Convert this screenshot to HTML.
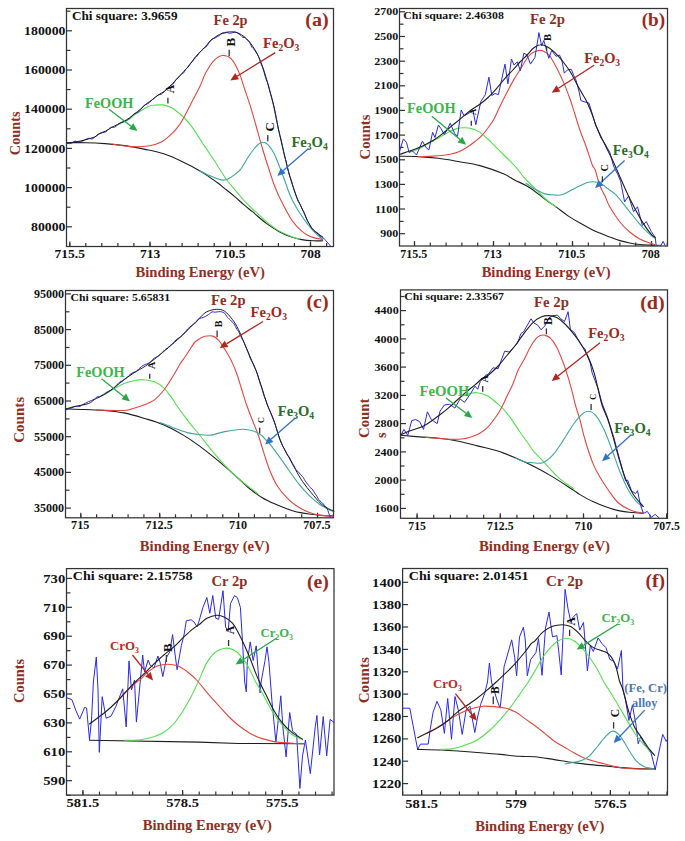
<!DOCTYPE html>
<html><head><meta charset="utf-8"><style>
html,body{margin:0;padding:0;background:#fff;}
svg{display:block;font-family:"Liberation Serif", serif;}
</style></head><body>
<svg width="685" height="841" viewBox="0 0 685 841">
<rect width="685" height="841" fill="#fff"/>
<rect x="66.5" y="8.5" width="267.0" height="238.0" fill="none" stroke="#333" stroke-width="1.25"/>
<line x1="66.5" y1="226.8" x2="72.0" y2="226.8" stroke="#333" stroke-width="1.2"/>
<text transform="translate(65.4,230.9) scale(1.020,1.000)" font-size="13.5" fill="#111" text-anchor="end" font-weight="bold">80000</text>
<line x1="66.5" y1="187.6" x2="72.0" y2="187.6" stroke="#333" stroke-width="1.2"/>
<text transform="translate(65.4,191.7) scale(1.020,1.000)" font-size="13.5" fill="#111" text-anchor="end" font-weight="bold">100000</text>
<line x1="66.5" y1="148.4" x2="72.0" y2="148.4" stroke="#333" stroke-width="1.2"/>
<text transform="translate(65.4,152.5) scale(1.020,1.000)" font-size="13.5" fill="#111" text-anchor="end" font-weight="bold">120000</text>
<line x1="66.5" y1="109.2" x2="72.0" y2="109.2" stroke="#333" stroke-width="1.2"/>
<text transform="translate(65.4,113.3) scale(1.020,1.000)" font-size="13.5" fill="#111" text-anchor="end" font-weight="bold">140000</text>
<line x1="66.5" y1="70.0" x2="72.0" y2="70.0" stroke="#333" stroke-width="1.2"/>
<text transform="translate(65.4,74.1) scale(1.020,1.000)" font-size="13.5" fill="#111" text-anchor="end" font-weight="bold">160000</text>
<line x1="66.5" y1="30.8" x2="72.0" y2="30.8" stroke="#333" stroke-width="1.2"/>
<text transform="translate(65.4,34.9) scale(1.020,1.000)" font-size="13.5" fill="#111" text-anchor="end" font-weight="bold">180000</text>
<line x1="66.5" y1="207.2" x2="70.5" y2="207.2" stroke="#333" stroke-width="1.2"/>
<line x1="66.5" y1="168.0" x2="70.5" y2="168.0" stroke="#333" stroke-width="1.2"/>
<line x1="66.5" y1="128.8" x2="70.5" y2="128.8" stroke="#333" stroke-width="1.2"/>
<line x1="66.5" y1="89.6" x2="70.5" y2="89.6" stroke="#333" stroke-width="1.2"/>
<line x1="66.5" y1="50.4" x2="70.5" y2="50.4" stroke="#333" stroke-width="1.2"/>
<line x1="66.5" y1="11.2" x2="70.5" y2="11.2" stroke="#333" stroke-width="1.2"/>
<line x1="69.8" y1="246.5" x2="69.8" y2="241.5" stroke="#333" stroke-width="1.2"/>
<text x="69.8" y="258.4" font-size="13.5" fill="#111" text-anchor="middle" font-weight="bold">715.5</text>
<line x1="150.0" y1="246.5" x2="150.0" y2="241.5" stroke="#333" stroke-width="1.2"/>
<text x="150.0" y="258.4" font-size="13.5" fill="#111" text-anchor="middle" font-weight="bold">713</text>
<line x1="230.2" y1="246.5" x2="230.2" y2="241.5" stroke="#333" stroke-width="1.2"/>
<text x="230.2" y="258.4" font-size="13.5" fill="#111" text-anchor="middle" font-weight="bold">710.5</text>
<line x1="310.5" y1="246.5" x2="310.5" y2="241.5" stroke="#333" stroke-width="1.2"/>
<text x="310.5" y="258.4" font-size="13.5" fill="#111" text-anchor="middle" font-weight="bold">708</text>
<line x1="69.8" y1="246.5" x2="69.8" y2="243.0" stroke="#333" stroke-width="1.2"/>
<line x1="85.8" y1="246.5" x2="85.8" y2="243.0" stroke="#333" stroke-width="1.2"/>
<line x1="101.8" y1="246.5" x2="101.8" y2="243.0" stroke="#333" stroke-width="1.2"/>
<line x1="117.9" y1="246.5" x2="117.9" y2="243.0" stroke="#333" stroke-width="1.2"/>
<line x1="133.9" y1="246.5" x2="133.9" y2="243.0" stroke="#333" stroke-width="1.2"/>
<line x1="150.0" y1="246.5" x2="150.0" y2="243.0" stroke="#333" stroke-width="1.2"/>
<line x1="166.0" y1="246.5" x2="166.0" y2="243.0" stroke="#333" stroke-width="1.2"/>
<line x1="182.1" y1="246.5" x2="182.1" y2="243.0" stroke="#333" stroke-width="1.2"/>
<line x1="198.1" y1="246.5" x2="198.1" y2="243.0" stroke="#333" stroke-width="1.2"/>
<line x1="214.2" y1="246.5" x2="214.2" y2="243.0" stroke="#333" stroke-width="1.2"/>
<line x1="230.2" y1="246.5" x2="230.2" y2="243.0" stroke="#333" stroke-width="1.2"/>
<line x1="246.3" y1="246.5" x2="246.3" y2="243.0" stroke="#333" stroke-width="1.2"/>
<line x1="262.4" y1="246.5" x2="262.4" y2="243.0" stroke="#333" stroke-width="1.2"/>
<line x1="278.4" y1="246.5" x2="278.4" y2="243.0" stroke="#333" stroke-width="1.2"/>
<line x1="294.4" y1="246.5" x2="294.4" y2="243.0" stroke="#333" stroke-width="1.2"/>
<line x1="310.5" y1="246.5" x2="310.5" y2="243.0" stroke="#333" stroke-width="1.2"/>
<line x1="326.6" y1="246.5" x2="326.6" y2="243.0" stroke="#333" stroke-width="1.2"/>
<text x="71.9" y="19.7" font-size="13.2" fill="#111" text-anchor="start" font-weight="bold">Chi square: 3.9659</text>
<text transform="translate(230.6,24.5) scale(1.015,1.000)" font-size="14.2" fill="#8f2f1f" text-anchor="middle" font-weight="bold">Fe 2p</text>
<text transform="translate(328.8,25.8) scale(1.043,1.000)" font-size="19.3" fill="#9a2a1c" text-anchor="end" font-weight="bold">(a)</text>
<text transform="translate(200.2,276.7) scale(1.012,1.000)" font-size="14.5" fill="#8f2f1f" text-anchor="middle" font-weight="bold">Binding Energy (eV)</text>
<text transform="translate(19.5,133.3) rotate(-90) scale(1.000,1)" font-size="14.3" font-weight="bold" fill="#8f2f1f" text-anchor="middle">Counts</text>
<path d="M67.0,142.7 C70.1,142.7 79.2,142.5 85.6,142.7 C91.9,142.8 98.6,143.1 105.1,143.6 C111.6,144.1 118.2,144.7 124.7,145.6 C131.2,146.5 137.7,147.7 144.2,149.1 C150.7,150.5 157.3,151.6 163.8,153.8 C170.3,156.0 177.4,159.3 183.4,162.2 C189.4,165.0 195.8,168.5 200.0,170.9 C204.2,173.3 205.9,174.6 208.8,176.6 C211.7,178.6 214.6,180.6 217.5,182.8 C220.4,185.0 223.4,187.5 226.3,189.8 C229.2,192.1 232.1,194.3 235.0,196.8 C237.9,199.3 240.9,202.2 243.8,204.7 C246.7,207.2 250.1,209.7 252.5,211.7 C254.9,213.7 255.6,214.5 258.0,216.5 C260.4,218.5 263.3,221.2 266.7,223.6 C270.1,226.0 274.5,229.0 278.4,231.2 C282.3,233.3 286.1,235.1 290.0,236.5 C293.9,237.9 297.8,238.9 301.7,239.6 C305.6,240.3 309.9,240.6 313.4,240.8 C316.9,241.0 321.1,240.8 322.7,240.8" fill="none" stroke="#1e1e1e" stroke-width="1.1" stroke-linejoin="round" stroke-linecap="round"/>
<path d="M117.5,124.9 C118.5,124.4 121.5,122.9 123.4,122.0 C125.4,121.1 127.3,120.5 129.2,119.3 C131.1,118.1 132.6,116.3 135.0,114.6 C137.4,112.9 141.4,110.3 143.8,108.9 C146.2,107.5 147.7,106.6 149.6,106.0 C151.5,105.4 153.7,105.3 155.4,105.1 C157.1,104.9 158.5,104.9 160.0,104.9 C161.5,104.9 162.5,104.7 164.2,105.1 C165.9,105.5 168.2,106.3 170.0,107.1 C171.8,107.9 172.7,108.3 175.0,110.0 C177.3,111.7 181.1,114.7 183.9,117.5 C186.7,120.3 188.9,122.6 192.0,126.9 C195.1,131.2 199.0,137.8 202.6,143.2 C206.2,148.6 209.6,153.5 213.6,159.5 C217.6,165.5 222.7,174.2 226.3,179.3 C229.9,184.4 232.1,186.3 235.0,189.8 C237.9,193.3 240.9,197.1 243.8,200.3 C246.7,203.5 250.1,206.8 252.5,209.0 C254.9,211.2 255.6,211.7 258.0,213.8 C260.4,216.0 263.3,219.1 266.7,221.9 C270.1,224.7 274.5,228.3 278.4,230.6 C282.3,232.9 286.5,234.5 290.0,235.9 C293.5,237.3 297.8,238.6 299.4,239.1" fill="none" stroke="#55e04f" stroke-width="1.1" stroke-linejoin="round" stroke-linecap="round"/>
<path d="M113.0,144.2 C115.9,144.6 124.7,146.3 130.6,146.6 C136.5,146.9 143.0,146.8 148.2,146.0 C153.4,145.2 158.0,143.7 161.9,141.7 C165.8,139.7 168.9,136.4 171.6,133.9 C174.3,131.4 175.9,129.6 178.0,126.9 C180.1,124.2 181.8,121.3 183.9,117.5 C186.0,113.7 188.7,108.1 190.7,104.2 C192.7,100.3 194.4,97.0 196.0,94.0 C197.6,91.0 198.3,89.8 200.0,86.2 C201.7,82.6 203.6,76.8 205.9,72.6 C208.2,68.4 210.9,63.6 213.7,60.8 C216.5,57.9 219.6,55.8 222.5,55.5 C225.4,55.2 228.5,56.0 231.3,58.9 C234.1,61.8 236.8,67.4 239.1,72.6 C241.4,77.8 243.0,84.3 245.0,90.2 C247.0,96.1 249.0,101.5 250.9,107.8 C252.8,114.1 254.8,121.1 256.7,128.0 C258.6,134.9 260.6,142.3 262.6,149.0 C264.6,155.7 266.7,162.3 268.5,168.0 C270.3,173.7 271.9,178.5 273.5,183.0 C275.1,187.5 276.6,191.1 278.4,195.0 C280.2,198.9 282.3,203.0 284.2,206.7 C286.1,210.4 288.1,214.1 290.0,217.2 C291.9,220.3 293.9,223.1 295.9,225.4 C297.8,227.7 299.8,229.5 301.7,231.2 C303.6,232.8 305.7,234.2 307.6,235.3 C309.6,236.4 310.9,236.9 313.4,237.6 C315.9,238.3 321.1,239.1 322.7,239.4" fill="none" stroke="#e8453f" stroke-width="1.1" stroke-linejoin="round" stroke-linecap="round"/>
<path d="M200.0,170.8 C201.5,171.6 205.9,174.0 208.8,175.3 C211.7,176.6 215.0,178.0 217.5,178.8 C220.0,179.6 221.7,180.2 223.6,180.1 C225.5,180.0 227.0,179.3 228.9,178.4 C230.8,177.5 233.1,175.9 235.0,174.4 C236.9,172.9 238.4,172.0 240.3,169.6 C242.2,167.2 245.0,162.3 246.4,160.0 C247.8,157.7 247.6,157.7 249.0,155.7 C250.4,153.7 253.2,149.9 254.8,148.0 C256.4,146.1 257.2,145.2 258.5,144.2 C259.8,143.2 261.3,142.3 262.6,142.2 C263.9,142.1 265.2,142.6 266.5,143.5 C267.8,144.4 269.1,145.8 270.4,147.6 C271.7,149.3 273.0,151.4 274.3,154.0 C275.6,156.6 276.9,160.0 278.2,163.2 C279.5,166.4 280.7,169.5 282.0,173.0 C283.3,176.5 284.7,180.3 286.0,184.0 C287.3,187.7 288.4,191.2 290.0,195.0 C291.6,198.8 293.9,203.2 295.9,206.7 C297.8,210.2 299.8,213.1 301.7,216.0 C303.6,218.9 305.7,221.7 307.6,224.2 C309.6,226.7 311.5,229.1 313.4,231.2 C315.3,233.2 317.6,235.2 319.2,236.5 C320.8,237.8 322.1,238.4 322.7,238.8" fill="none" stroke="#3fa79a" stroke-width="1.1" stroke-linejoin="round" stroke-linecap="round"/>
<path d="M67.0,143.2 C67.4,143.3 68.8,143.6 69.7,143.6 C70.6,143.5 71.5,143.2 72.4,142.8 C73.3,142.3 74.1,141.2 75.0,141.0 C75.9,140.9 76.8,141.9 77.7,142.0 C78.6,142.1 79.5,141.8 80.4,141.6 C81.3,141.4 82.3,141.2 83.3,140.8 C84.2,140.4 85.2,139.7 86.1,139.2 C87.1,138.8 88.0,138.2 89.0,138.2 C89.9,138.2 90.9,139.2 91.8,139.0 C92.8,138.9 93.8,138.1 94.7,137.3 C95.6,136.6 96.5,135.3 97.3,134.6 C98.2,134.0 99.1,133.9 100.0,133.5 C100.9,133.2 101.9,132.9 102.9,132.6 C103.9,132.4 104.8,132.5 105.8,131.9 C106.8,131.3 107.8,129.8 108.8,128.9 C109.7,128.1 110.7,127.3 111.7,127.1 C112.7,126.8 113.6,127.7 114.6,127.3 C115.6,126.9 116.5,125.7 117.5,124.9 C118.5,124.1 119.5,122.9 120.5,122.5 C121.4,122.0 122.4,122.5 123.4,122.1 C124.4,121.8 125.3,121.1 126.3,120.5 C127.3,119.9 128.2,119.4 129.2,118.6 C130.2,117.8 131.1,116.6 132.1,115.7 C133.1,114.8 134.0,113.8 135.0,113.3 C136.0,112.7 136.9,113.1 137.9,112.5 C138.9,111.8 140.0,110.2 140.8,109.3 C141.6,108.4 142.1,107.7 142.8,107.0 C143.4,106.2 144.1,105.2 144.7,104.8 C145.4,104.3 145.9,104.7 146.7,104.3 C147.5,103.9 148.6,103.2 149.6,102.4 C150.6,101.6 151.5,100.4 152.5,99.6 C153.5,98.7 154.5,98.0 155.4,97.2 C156.4,96.4 157.4,95.5 158.4,95.0 C159.4,94.5 160.3,94.7 161.3,94.2 C162.3,93.6 163.1,92.9 164.2,91.8 C165.3,90.8 166.5,88.9 167.7,87.8 C168.9,86.8 170.2,86.1 171.2,85.4 C172.1,84.7 172.7,84.7 173.4,83.8 C174.1,82.9 174.9,81.2 175.6,80.2 C176.3,79.2 177.1,78.6 177.8,77.8 C178.5,77.1 179.1,76.3 179.8,75.7 C180.4,75.0 181.1,74.6 181.7,74.1 C182.4,73.6 183.0,73.5 183.7,72.8 C184.3,72.1 185.0,70.5 185.6,69.6 C186.3,68.8 186.9,68.5 187.6,67.6 C188.2,66.7 188.9,65.2 189.5,64.4 C190.1,63.6 190.5,63.2 191.0,62.8 C191.5,62.3 192.0,62.3 192.4,61.7 C192.9,61.2 193.4,60.2 193.9,59.5 C194.4,58.8 194.8,58.3 195.4,57.7 C196.0,57.1 196.7,56.8 197.3,55.9 C198.0,55.0 198.6,53.3 199.3,52.5 C199.9,51.7 200.6,51.7 201.2,51.1 C201.8,50.5 202.5,49.3 203.1,48.7 C203.8,48.2 204.4,48.1 205.1,47.7 C205.7,47.2 206.2,46.8 207.0,45.8 C207.8,44.8 208.9,42.8 209.8,41.7 C210.7,40.5 211.4,39.5 212.2,38.9 C213.1,38.4 213.9,38.6 214.7,38.3 C215.5,37.9 216.3,37.1 217.2,36.7 C218.0,36.2 218.8,36.1 219.6,35.6 C220.4,35.0 221.2,33.7 222.0,33.3 C222.8,32.9 223.6,33.3 224.4,33.2 C225.3,33.1 226.1,32.5 226.9,32.5 C227.7,32.5 228.4,33.2 229.3,33.3 C230.2,33.3 231.5,32.9 232.6,32.7 C233.7,32.5 234.7,31.9 235.8,32.1 C236.9,32.4 238.2,33.6 239.1,34.2 C240.0,34.8 240.4,35.1 241.1,35.7 C241.7,36.2 242.4,37.2 243.0,37.5 C243.7,37.9 244.3,37.2 245.0,37.6 C245.6,38.0 246.3,39.1 246.9,39.7 C247.6,40.3 248.3,40.4 248.9,41.1 C249.5,41.9 249.9,43.1 250.5,44.1 C251.0,45.1 251.5,46.6 252.0,47.4 C252.5,48.2 253.1,48.3 253.6,48.9 C254.1,49.5 254.6,50.1 255.1,50.9 C255.7,51.6 256.2,52.5 256.7,53.2 C257.2,53.9 257.5,54.5 257.9,55.2 C258.3,56.0 258.7,56.8 259.1,57.8 C259.5,58.8 259.8,60.2 260.2,61.4 C260.6,62.6 261.0,63.8 261.4,64.8 C261.8,65.8 262.3,66.6 262.6,67.4 C262.9,68.2 263.1,68.9 263.3,69.7 C263.6,70.5 263.8,71.4 264.1,72.3 C264.3,73.2 264.6,74.2 264.8,75.1 C265.1,75.9 265.3,76.8 265.6,77.6 C265.8,78.3 266.0,79.0 266.3,79.6 C266.5,80.2 266.8,80.8 267.0,81.4 C267.3,82.0 267.5,82.6 267.8,83.3 C268.0,84.0 268.3,84.7 268.5,85.6 C268.7,86.5 269.0,87.6 269.2,88.6 C269.5,89.6 269.7,90.6 269.9,91.6 C270.2,92.6 270.4,93.5 270.7,94.4 C270.9,95.3 271.2,96.1 271.4,97.0 C271.6,97.8 271.9,98.6 272.1,99.6 C272.4,100.5 272.6,101.5 272.9,102.5 C273.1,103.5 273.3,104.7 273.6,105.8 C273.8,106.8 274.1,108.0 274.3,109.0 C274.5,110.0 274.6,110.9 274.8,111.7 C275.0,112.6 275.1,113.4 275.3,114.2 C275.4,115.0 275.6,115.7 275.8,116.5 C275.9,117.2 276.1,117.9 276.2,118.7 C276.4,119.4 276.6,120.1 276.7,120.8 C276.9,121.6 277.1,122.4 277.2,123.1 C277.4,123.9 277.5,124.8 277.7,125.6 C277.9,126.4 278.0,127.3 278.2,128.2 C278.4,129.1 278.6,130.0 278.8,130.8 C279.0,131.7 279.2,132.5 279.4,133.3 C279.6,134.1 279.8,134.9 280.0,135.6 C280.2,136.4 280.4,137.1 280.6,137.8 C280.8,138.5 281.0,139.2 281.1,140.0 C281.3,140.8 281.5,141.6 281.7,142.5 C281.9,143.4 282.1,144.3 282.3,145.3 C282.5,146.3 282.7,147.3 282.9,148.3 C283.1,149.3 283.3,150.4 283.5,151.4 C283.7,152.4 283.9,153.3 284.1,154.2 C284.3,155.2 284.5,156.1 284.8,156.9 C285.0,157.7 285.2,158.5 285.4,159.3 C285.6,160.2 285.8,160.9 286.1,161.8 C286.3,162.7 286.5,163.6 286.7,164.5 C286.9,165.4 287.2,166.4 287.4,167.3 C287.6,168.3 287.8,169.3 288.0,170.2 C288.3,171.1 288.5,171.9 288.7,172.7 C288.9,173.5 289.1,174.2 289.3,174.9 C289.6,175.6 289.8,176.2 290.0,176.9 C290.2,177.5 290.6,178.1 290.8,178.9 C291.1,179.7 291.4,180.6 291.7,181.5 C292.0,182.4 292.2,183.5 292.5,184.5 C292.8,185.5 293.1,186.5 293.4,187.4 C293.7,188.2 293.9,189.0 294.2,189.8 C294.5,190.7 294.8,191.4 295.1,192.3 C295.3,193.2 295.6,194.1 295.9,195.2 C296.2,196.3 296.7,197.6 297.1,198.7 C297.4,199.7 297.8,200.7 298.2,201.5 C298.6,202.2 299.0,202.6 299.4,203.3 C299.8,203.9 300.2,204.5 300.5,205.3 C300.9,206.1 301.3,207.2 301.7,208.1 C302.1,208.9 302.5,209.7 302.9,210.4 C303.3,211.1 303.7,211.5 304.1,212.3 C304.5,213.1 304.8,214.0 305.2,215.1 C305.6,216.1 306.0,217.6 306.4,218.6 C306.8,219.7 307.2,220.8 307.6,221.6 C308.0,222.5 308.6,222.8 309.1,223.6 C309.5,224.4 310.0,225.5 310.5,226.3 C311.0,227.1 311.5,227.9 311.9,228.5 C312.4,229.0 312.8,229.0 313.4,229.6 C314.0,230.1 314.9,231.1 315.7,231.7 C316.5,232.4 317.3,232.6 318.0,233.4 C318.8,234.2 319.6,235.9 320.4,236.6 C321.1,237.2 321.6,236.4 322.7,237.3 C323.8,238.2 325.7,240.6 327.0,242.0 C328.3,243.4 329.9,245.3 330.5,246.0" fill="none" stroke="#2a2ae6" stroke-width="1.0" stroke-linejoin="round" stroke-linecap="round"/>
<path d="M67.0,143.0 C69.2,142.7 75.8,142.0 80.4,141.0 C85.0,140.0 91.4,138.2 94.7,136.9 C98.0,135.6 98.2,134.3 100.0,133.3 C101.8,132.3 103.8,132.0 105.8,131.0 C107.8,130.0 109.8,128.5 111.7,127.4 C113.7,126.3 115.5,125.5 117.5,124.5 C119.5,123.5 121.5,122.7 123.4,121.6 C125.4,120.5 127.3,119.4 129.2,118.1 C131.1,116.8 133.1,115.0 135.0,113.5 C136.9,112.0 138.9,110.6 140.8,108.9 C142.8,107.2 144.8,105.2 146.7,103.6 C148.6,102.0 150.6,101.0 152.5,99.5 C154.4,98.0 156.5,96.2 158.4,94.9 C160.3,93.6 162.6,92.5 164.2,91.4 C165.8,90.3 166.5,89.5 167.7,88.4 C168.9,87.3 169.5,86.6 171.2,84.9 C172.9,83.2 175.7,80.2 177.8,78.0 C179.9,75.8 181.8,73.7 183.7,71.5 C185.6,69.3 187.6,67.5 189.5,65.1 C191.4,62.7 193.5,59.2 195.4,56.9 C197.3,54.6 199.3,53.1 201.2,51.1 C203.1,49.1 205.6,46.3 207.0,44.7 C208.4,43.1 207.7,43.0 209.8,41.3 C211.9,39.6 216.3,36.0 219.6,34.4 C222.8,32.8 226.1,32.1 229.3,31.9 C232.6,31.7 235.8,31.8 239.1,33.4 C242.4,35.0 246.0,38.0 248.9,41.3 C251.8,44.6 254.4,48.8 256.7,53.0 C259.0,57.2 260.6,61.2 262.6,66.7 C264.6,72.2 266.6,79.4 268.5,86.2 C270.4,93.0 272.7,100.8 274.3,107.8 C275.9,114.8 276.6,120.4 278.2,128.0 C279.8,135.6 282.1,145.2 284.1,153.4 C286.1,161.6 288.0,170.0 290.0,176.9 C292.0,183.8 293.9,189.8 295.9,195.0 C297.8,200.2 299.8,203.5 301.7,207.8 C303.6,212.1 305.7,217.0 307.6,220.7 C309.6,224.4 310.9,227.3 313.4,230.0 C315.9,232.7 321.1,235.8 322.7,237.0" fill="none" stroke="#1e1e1e" stroke-width="1.0" stroke-linejoin="round" stroke-linecap="round"/>
<text x="85.0" y="107.8" font-size="14.3" fill="#3db54a" text-anchor="start" font-weight="bold">FeOOH</text>
<line x1="109" y1="109.3" x2="131.1" y2="126.2" stroke="#28a844" stroke-width="1.3"/>
<path d="M137.5,131 L129.0,129.0 L133.3,123.3 Z" fill="#28a844"/>
<text x="263.0" y="48.2" font-size="14.6" fill="#9b2a1e" font-weight="bold"><tspan dy="0.0">Fe</tspan><tspan font-size="9.6" dy="3.2">2</tspan><tspan dy="-3.2">O</tspan><tspan font-size="9.6" dy="3.2">3</tspan></text>
<line x1="275.3" y1="52.6" x2="237.1" y2="76.2" stroke="#b3261e" stroke-width="1.3"/>
<path d="M230.3,80.4 L235.2,73.1 L239.0,79.3 Z" fill="#b3261e"/>
<text x="291.4" y="146.7" font-size="14.6" fill="#2a6e28" font-weight="bold"><tspan dy="0.0">Fe</tspan><tspan font-size="9.6" dy="3.2">3</tspan><tspan dy="-3.2">O</tspan><tspan font-size="9.6" dy="3.2">4</tspan></text>
<line x1="308.6" y1="148.5" x2="283.3" y2="170.6" stroke="#2f73c7" stroke-width="1.3"/>
<path d="M277.3,175.9 L280.9,167.9 L285.7,173.3 Z" fill="#2f73c7"/>
<line x1="167.9" y1="97.7" x2="167.9" y2="103.6" stroke="#333" stroke-width="1.3"/>
<text transform="translate(174.0,89.1) rotate(-90)" font-size="11.5" font-weight="bold" fill="#111" text-anchor="middle">A</text>
<line x1="229.2" y1="49.7" x2="229.2" y2="56.3" stroke="#333" stroke-width="1.3"/>
<text transform="translate(234.9,42.1) rotate(-90)" font-size="13.1" font-weight="bold" fill="#111" text-anchor="middle">B</text>
<line x1="267.8" y1="135" x2="267.8" y2="141.2" stroke="#333" stroke-width="1.3"/>
<text transform="translate(273.7,126.9) rotate(-90)" font-size="12.8" font-weight="bold" fill="#111" text-anchor="middle">C</text>
<rect x="399.5" y="8.5" width="268.0" height="237.5" fill="none" stroke="#333" stroke-width="1.25"/>
<line x1="399.5" y1="233.7" x2="405.0" y2="233.7" stroke="#333" stroke-width="1.2"/>
<text transform="translate(398.2,237.2) scale(1.050,1.000)" font-size="11.4" fill="#111" text-anchor="end" font-weight="bold">900</text>
<line x1="399.5" y1="209.0" x2="405.0" y2="209.0" stroke="#333" stroke-width="1.2"/>
<text transform="translate(398.2,212.5) scale(1.050,1.000)" font-size="11.4" fill="#111" text-anchor="end" font-weight="bold">1100</text>
<line x1="399.5" y1="184.4" x2="405.0" y2="184.4" stroke="#333" stroke-width="1.2"/>
<text transform="translate(398.2,187.9) scale(1.050,1.000)" font-size="11.4" fill="#111" text-anchor="end" font-weight="bold">1300</text>
<line x1="399.5" y1="159.8" x2="405.0" y2="159.8" stroke="#333" stroke-width="1.2"/>
<text transform="translate(398.2,163.2) scale(1.050,1.000)" font-size="11.4" fill="#111" text-anchor="end" font-weight="bold">1500</text>
<line x1="399.5" y1="135.1" x2="405.0" y2="135.1" stroke="#333" stroke-width="1.2"/>
<text transform="translate(398.2,138.6) scale(1.050,1.000)" font-size="11.4" fill="#111" text-anchor="end" font-weight="bold">1700</text>
<line x1="399.5" y1="110.4" x2="405.0" y2="110.4" stroke="#333" stroke-width="1.2"/>
<text transform="translate(398.2,113.9) scale(1.050,1.000)" font-size="11.4" fill="#111" text-anchor="end" font-weight="bold">1900</text>
<line x1="399.5" y1="85.8" x2="405.0" y2="85.8" stroke="#333" stroke-width="1.2"/>
<text transform="translate(398.2,89.3) scale(1.050,1.000)" font-size="11.4" fill="#111" text-anchor="end" font-weight="bold">2100</text>
<line x1="399.5" y1="61.2" x2="405.0" y2="61.2" stroke="#333" stroke-width="1.2"/>
<text transform="translate(398.2,64.6) scale(1.050,1.000)" font-size="11.4" fill="#111" text-anchor="end" font-weight="bold">2300</text>
<line x1="399.5" y1="36.5" x2="405.0" y2="36.5" stroke="#333" stroke-width="1.2"/>
<text transform="translate(398.2,40.0) scale(1.050,1.000)" font-size="11.4" fill="#111" text-anchor="end" font-weight="bold">2500</text>
<line x1="399.5" y1="11.8" x2="405.0" y2="11.8" stroke="#333" stroke-width="1.2"/>
<text transform="translate(398.2,15.3) scale(1.050,1.000)" font-size="11.4" fill="#111" text-anchor="end" font-weight="bold">2700</text>
<line x1="399.5" y1="221.4" x2="403.5" y2="221.4" stroke="#333" stroke-width="1.2"/>
<line x1="399.5" y1="196.7" x2="403.5" y2="196.7" stroke="#333" stroke-width="1.2"/>
<line x1="399.5" y1="172.1" x2="403.5" y2="172.1" stroke="#333" stroke-width="1.2"/>
<line x1="399.5" y1="147.4" x2="403.5" y2="147.4" stroke="#333" stroke-width="1.2"/>
<line x1="399.5" y1="122.8" x2="403.5" y2="122.8" stroke="#333" stroke-width="1.2"/>
<line x1="399.5" y1="98.1" x2="403.5" y2="98.1" stroke="#333" stroke-width="1.2"/>
<line x1="399.5" y1="73.5" x2="403.5" y2="73.5" stroke="#333" stroke-width="1.2"/>
<line x1="399.5" y1="48.8" x2="403.5" y2="48.8" stroke="#333" stroke-width="1.2"/>
<line x1="399.5" y1="24.2" x2="403.5" y2="24.2" stroke="#333" stroke-width="1.2"/>
<line x1="414.5" y1="246" x2="414.5" y2="241" stroke="#333" stroke-width="1.2"/>
<text x="413.8" y="257.8" font-size="12" fill="#111" text-anchor="middle" font-weight="bold">715.5</text>
<line x1="493.5" y1="246" x2="493.5" y2="241" stroke="#333" stroke-width="1.2"/>
<text x="492.8" y="257.8" font-size="12" fill="#111" text-anchor="middle" font-weight="bold">713</text>
<line x1="572.5" y1="246" x2="572.5" y2="241" stroke="#333" stroke-width="1.2"/>
<text x="571.8" y="257.8" font-size="12" fill="#111" text-anchor="middle" font-weight="bold">710.5</text>
<line x1="651.5" y1="246" x2="651.5" y2="241" stroke="#333" stroke-width="1.2"/>
<text x="650.8" y="257.8" font-size="12" fill="#111" text-anchor="middle" font-weight="bold">708</text>
<line x1="414.5" y1="246" x2="414.5" y2="242.5" stroke="#333" stroke-width="1.2"/>
<line x1="430.3" y1="246" x2="430.3" y2="242.5" stroke="#333" stroke-width="1.2"/>
<line x1="446.1" y1="246" x2="446.1" y2="242.5" stroke="#333" stroke-width="1.2"/>
<line x1="461.9" y1="246" x2="461.9" y2="242.5" stroke="#333" stroke-width="1.2"/>
<line x1="477.7" y1="246" x2="477.7" y2="242.5" stroke="#333" stroke-width="1.2"/>
<line x1="493.5" y1="246" x2="493.5" y2="242.5" stroke="#333" stroke-width="1.2"/>
<line x1="509.3" y1="246" x2="509.3" y2="242.5" stroke="#333" stroke-width="1.2"/>
<line x1="525.1" y1="246" x2="525.1" y2="242.5" stroke="#333" stroke-width="1.2"/>
<line x1="540.9" y1="246" x2="540.9" y2="242.5" stroke="#333" stroke-width="1.2"/>
<line x1="556.7" y1="246" x2="556.7" y2="242.5" stroke="#333" stroke-width="1.2"/>
<line x1="572.5" y1="246" x2="572.5" y2="242.5" stroke="#333" stroke-width="1.2"/>
<line x1="588.3" y1="246" x2="588.3" y2="242.5" stroke="#333" stroke-width="1.2"/>
<line x1="604.1" y1="246" x2="604.1" y2="242.5" stroke="#333" stroke-width="1.2"/>
<line x1="619.9" y1="246" x2="619.9" y2="242.5" stroke="#333" stroke-width="1.2"/>
<line x1="635.7" y1="246" x2="635.7" y2="242.5" stroke="#333" stroke-width="1.2"/>
<line x1="651.5" y1="246" x2="651.5" y2="242.5" stroke="#333" stroke-width="1.2"/>
<line x1="667.3" y1="246" x2="667.3" y2="242.5" stroke="#333" stroke-width="1.2"/>
<text transform="translate(403.3,19.1) scale(1.085,1.000)" font-size="10.9" fill="#111" text-anchor="start" font-weight="bold">Chi square: 2.46308</text>
<text transform="translate(547.5,23.7) scale(1.047,1.000)" font-size="14.2" fill="#8f2f1f" text-anchor="middle" font-weight="bold">Fe 2p</text>
<text transform="translate(665.2,26.0) scale(1.045,1.000)" font-size="18.4" fill="#9a2a1c" text-anchor="end" font-weight="bold">(b)</text>
<text x="546.1" y="276.5" font-size="14.6" fill="#8f2f1f" text-anchor="middle" font-weight="bold">Binding Energy (eV)</text>
<text transform="translate(370.0,137.0) rotate(-90) scale(1.036,1)" font-size="14.2" font-weight="bold" fill="#8f2f1f" text-anchor="middle">Counts</text>
<path d="M400.0,156.2 C403.1,156.3 412.3,156.2 418.7,156.6 C425.1,156.9 431.8,157.5 438.4,158.3 C445.0,159.1 451.2,160.3 458.1,161.5 C465.0,162.7 472.4,163.5 480.0,165.6 C487.6,167.7 497.6,171.4 503.4,173.8 C509.2,176.2 510.7,178.0 515.0,180.2 C519.3,182.4 523.9,184.0 529.0,187.2 C534.1,190.4 540.8,196.1 545.4,199.5 C550.0,202.9 552.9,204.6 556.7,207.4 C560.5,210.2 564.5,213.5 568.4,216.1 C572.3,218.7 576.1,220.9 580.0,223.1 C583.9,225.3 588.4,227.8 591.7,229.5 C595.0,231.2 597.0,231.8 600.0,233.1 C603.0,234.4 606.6,235.8 609.9,237.1 C613.2,238.3 616.6,239.6 619.9,240.6 C623.2,241.6 626.5,242.3 629.8,243.0 C633.1,243.7 636.4,244.2 639.7,244.5 C643.0,244.8 647.1,244.9 649.6,245.0 C652.1,245.1 654.1,245.2 655.0,245.2" fill="none" stroke="#1e1e1e" stroke-width="1.1" stroke-linejoin="round" stroke-linecap="round"/>
<path d="M410.7,152.0 C412.6,151.2 418.5,148.8 422.4,146.9 C426.3,145.0 431.1,142.0 434.0,140.4 C436.9,138.8 437.5,138.6 440.0,137.2 C442.5,135.8 445.9,133.4 448.8,131.9 C451.7,130.4 455.0,129.1 457.5,128.4 C460.0,127.7 461.8,127.8 464.0,127.8 C466.2,127.8 468.0,127.7 470.6,128.4 C473.2,129.1 476.5,130.1 479.4,131.9 C482.3,133.8 486.1,137.7 488.2,139.5 C490.2,141.3 489.2,140.3 491.7,142.8 C494.2,145.3 499.5,150.6 503.4,154.5 C507.3,158.4 511.5,162.3 515.0,166.2 C518.5,170.1 521.3,174.4 524.4,177.9 C527.5,181.4 530.0,183.5 533.7,187.2 C537.4,190.9 542.9,196.7 546.6,200.0 C550.3,203.3 554.4,205.8 556.0,207.0" fill="none" stroke="#55e04f" stroke-width="1.1" stroke-linejoin="round" stroke-linecap="round"/>
<path d="M418.0,156.6 C420.5,156.5 428.8,156.3 433.0,156.1 C437.2,155.9 440.7,155.6 443.5,155.3 C446.3,155.0 447.7,154.8 450.0,154.3 C452.3,153.8 454.8,153.4 457.5,152.3 C460.2,151.2 463.4,149.5 466.3,147.7 C469.2,145.9 472.4,143.6 475.0,141.5 C477.6,139.4 479.7,137.9 482.0,135.4 C484.3,132.9 486.9,129.4 489.0,126.6 C491.1,123.8 492.7,121.6 494.3,118.6 C495.9,115.6 496.8,112.8 498.9,108.5 C501.0,104.2 504.3,97.6 506.8,92.8 C509.3,88.0 511.6,83.4 513.8,79.6 C516.0,75.8 517.6,73.7 519.9,70.0 C522.2,66.3 525.4,60.4 527.6,57.5 C529.8,54.6 531.0,53.7 533.0,52.5 C535.0,51.3 538.0,50.5 539.9,50.4 C541.8,50.3 543.0,50.9 544.5,51.7 C546.0,52.5 547.9,53.8 549.2,55.2 C550.5,56.6 550.8,57.5 552.3,60.0 C553.8,62.5 556.0,66.6 558.0,70.5 C560.0,74.4 561.9,78.5 564.0,83.4 C566.1,88.3 568.9,96.0 570.4,100.0 C571.9,104.0 571.1,102.2 572.7,107.2 C574.3,112.2 577.6,123.4 579.9,130.0 C582.1,136.6 584.2,140.9 586.2,146.7 C588.2,152.4 590.6,160.6 592.1,164.5 C593.6,168.4 593.9,166.4 595.2,170.0 C596.5,173.6 598.4,181.7 600.0,186.0 C601.6,190.3 603.4,192.5 605.0,196.0 C606.6,199.5 607.4,202.7 609.9,207.0 C612.4,211.3 616.6,217.8 619.9,222.0 C623.2,226.2 626.5,229.2 629.8,232.0 C633.1,234.8 636.4,237.2 639.7,239.0 C643.0,240.8 647.1,242.1 649.6,243.0 C652.1,243.9 654.1,244.3 655.0,244.6" fill="none" stroke="#e8453f" stroke-width="1.1" stroke-linejoin="round" stroke-linecap="round"/>
<path d="M526.0,183.2 C527.3,184.1 530.5,186.8 533.7,188.6 C536.9,190.4 541.4,192.8 545.0,193.9 C548.6,195.0 552.6,195.0 555.5,195.1 C558.4,195.2 559.4,195.6 562.5,194.5 C565.6,193.4 569.9,190.7 574.2,188.7 C578.5,186.7 584.3,183.4 588.2,182.3 C592.1,181.2 595.0,181.8 597.5,182.3 C600.0,182.8 601.8,184.2 603.4,185.2 C605.0,186.1 605.0,186.6 606.9,188.0 C608.8,189.4 612.4,191.6 614.9,193.9 C617.4,196.2 619.3,198.8 621.8,201.8 C624.3,204.8 627.1,208.5 629.8,211.8 C632.4,215.1 635.2,218.7 637.7,221.7 C640.2,224.7 642.2,227.1 644.7,229.6 C647.2,232.1 650.9,235.2 652.6,236.6 C654.3,238.0 654.6,237.9 655.0,238.2" fill="none" stroke="#3fa79a" stroke-width="1.1" stroke-linejoin="round" stroke-linecap="round"/>
<path d="M399.5,151.6 L403.4,138.9 L406.5,142.5 L409.2,152.8 L412.0,150.5 L416.5,155.0 L422.4,141.1 L426.0,147.5 L428.9,149.9 L432.6,132.3 L435.0,137.5 L438.4,125.0 L441.0,128.7 L444.3,134.5 L447.5,129.0 L450.2,123.2 L454.6,133.4 L457.5,136.4 L461.2,110.0 L464.1,115.9 L469.2,113.0 L472.8,110.0 L475.8,124.7 L480.9,101.3 L485.3,94.7 L488.9,77.2 L491.8,95.5 L495.0,93.5 L498.4,94.7 L505.0,64.1 L507.9,83.8 L511.5,59.0 L514.0,65.0 L517.4,61.9 L520.3,70.7 L523.9,53.1 L527.0,55.0 L530.5,64.1 L534.9,57.5 L537.8,40.0 L538.9,32.6 L541.7,45.9 L543.8,40.5 L545.8,47.5 L548.8,58.3 L551.7,50.4 L556.0,56.3 L559.5,55.0 L561.7,60.0 L562.6,64.1 L564.3,73.1 L567.5,69.9 L571.3,69.3 L573.9,75.8 L575.7,79.3 L577.4,85.1 L579.2,92.1 L580.9,100.6 L585.0,102.0 L589.0,103.1 L592.0,113.0 L595.7,125.6 L597.0,128.0 L601.0,138.0 L604.0,142.0 L609.9,152.6 L613.7,166.4 L617.7,174.3 L620.6,181.2 L624.6,201.9 L628.6,196.0 L633.5,211.7 L637.5,206.8 L642.4,225.5 L646.3,221.6 L651.3,231.5 L655.2,237.4 L656.2,245.3 L661.1,245.3 L663.1,241.3 L665.0,245.3" fill="none" stroke="#2a2ae6" stroke-width="1.0" stroke-linejoin="round" stroke-linecap="round"/>
<path d="M400.0,154.2 C402.6,153.3 410.0,151.4 415.5,149.1 C421.0,146.8 428.2,143.2 433.0,140.4 C437.8,137.6 440.8,135.0 444.0,132.5 C447.2,130.0 449.3,127.8 452.0,125.6 C454.7,123.4 457.0,121.7 460.0,119.2 C463.0,116.7 466.9,113.1 470.0,110.7 C473.1,108.3 475.9,107.1 478.8,105.0 C481.7,102.9 484.6,100.7 487.5,98.0 C490.4,95.3 493.4,92.1 496.3,88.8 C499.2,85.5 502.2,81.4 505.0,78.3 C507.8,75.2 510.4,72.7 512.9,70.0 C515.4,67.3 517.5,64.6 520.0,62.0 C522.5,59.4 525.4,56.8 527.6,54.5 C529.8,52.2 531.0,50.1 533.0,48.5 C535.0,46.9 537.6,45.1 539.9,44.8 C542.2,44.4 544.3,45.1 546.8,46.4 C549.3,47.6 552.1,49.8 554.7,52.3 C557.3,54.8 560.0,57.9 562.6,61.2 C565.2,64.5 567.8,67.7 570.4,72.0 C573.0,76.3 575.7,82.0 578.3,86.8 C580.9,91.6 583.9,96.0 586.2,100.6 C588.5,105.2 590.3,109.8 592.1,114.4 C593.9,119.0 595.0,123.3 597.0,128.0 C599.0,132.7 601.5,137.7 604.0,142.8 C606.5,147.9 609.2,152.9 611.8,158.5 C614.4,164.1 617.1,170.4 619.7,176.3 C622.3,182.2 625.0,188.4 627.6,194.0 C630.2,199.6 632.9,204.9 635.5,209.8 C638.1,214.7 640.8,219.5 643.4,223.6 C646.0,227.7 649.3,232.1 651.3,234.4 C653.3,236.7 654.6,236.9 655.2,237.4" fill="none" stroke="#1e1e1e" stroke-width="1.1" stroke-linejoin="round" stroke-linecap="round"/>
<text x="407.0" y="112.6" font-size="14.4" fill="#3db54a" text-anchor="start" font-weight="bold">FeOOH</text>
<line x1="431.8" y1="116.3" x2="460.0" y2="139.6" stroke="#28a844" stroke-width="1.3"/>
<path d="M466.2,144.7 L457.7,142.4 L462.3,136.8 Z" fill="#28a844"/>
<text x="584.2" y="62.9" font-size="14.4" fill="#9b2a1e" font-weight="bold"><tspan dy="0.0">Fe</tspan><tspan font-size="9.5" dy="3.2">2</tspan><tspan dy="-3.2">O</tspan><tspan font-size="9.5" dy="3.2">3</tspan></text>
<line x1="594.1" y1="65.2" x2="558.4" y2="88.3" stroke="#b3261e" stroke-width="1.3"/>
<path d="M551.7,92.7 L556.5,85.3 L560.4,91.4 Z" fill="#b3261e"/>
<text x="612.8" y="154.9" font-size="14.4" fill="#2a6e28" font-weight="bold"><tspan dy="0.0">Fe</tspan><tspan font-size="9.5" dy="3.2">3</tspan><tspan dy="-3.2">O</tspan><tspan font-size="9.5" dy="3.2">4</tspan></text>
<line x1="624.6" y1="160.5" x2="600.9" y2="182.6" stroke="#2f73c7" stroke-width="1.3"/>
<path d="M595.1,188.1 L598.5,180.0 L603.4,185.3 Z" fill="#2f73c7"/>
<line x1="471.3" y1="120.7" x2="471.3" y2="125.8" stroke="#333" stroke-width="1.3"/>
<text transform="translate(476.4,111.8) rotate(-90)" font-size="8.7" font-weight="bold" fill="#111" text-anchor="middle">A</text>
<line x1="546.6" y1="46" x2="546.6" y2="50.7" stroke="#333" stroke-width="1.3"/>
<text transform="translate(551.2,37.4) rotate(-90)" font-size="10.7" font-weight="bold" fill="#111" text-anchor="middle">B</text>
<line x1="602.4" y1="176.3" x2="602.4" y2="182.2" stroke="#333" stroke-width="1.3"/>
<text transform="translate(608.0,167.9) rotate(-90)" font-size="10.3" font-weight="bold" fill="#111" text-anchor="middle">C</text>
<rect x="65.5" y="290.5" width="268.0" height="227.29999999999995" fill="none" stroke="#333" stroke-width="1.25"/>
<line x1="65.5" y1="508.1" x2="71.0" y2="508.1" stroke="#333" stroke-width="1.2"/>
<text transform="translate(64.1,512.0) scale(1.050,1.000)" font-size="11.5" fill="#111" text-anchor="end" font-weight="bold">35000</text>
<line x1="65.5" y1="472.4" x2="71.0" y2="472.4" stroke="#333" stroke-width="1.2"/>
<text transform="translate(64.1,476.3) scale(1.050,1.000)" font-size="11.5" fill="#111" text-anchor="end" font-weight="bold">45000</text>
<line x1="65.5" y1="436.7" x2="71.0" y2="436.7" stroke="#333" stroke-width="1.2"/>
<text transform="translate(64.1,440.6) scale(1.050,1.000)" font-size="11.5" fill="#111" text-anchor="end" font-weight="bold">55000</text>
<line x1="65.5" y1="401.0" x2="71.0" y2="401.0" stroke="#333" stroke-width="1.2"/>
<text transform="translate(64.1,404.9) scale(1.050,1.000)" font-size="11.5" fill="#111" text-anchor="end" font-weight="bold">65000</text>
<line x1="65.5" y1="365.3" x2="71.0" y2="365.3" stroke="#333" stroke-width="1.2"/>
<text transform="translate(64.1,369.2) scale(1.050,1.000)" font-size="11.5" fill="#111" text-anchor="end" font-weight="bold">75000</text>
<line x1="65.5" y1="329.6" x2="71.0" y2="329.6" stroke="#333" stroke-width="1.2"/>
<text transform="translate(64.1,333.5) scale(1.050,1.000)" font-size="11.5" fill="#111" text-anchor="end" font-weight="bold">85000</text>
<line x1="65.5" y1="293.9" x2="71.0" y2="293.9" stroke="#333" stroke-width="1.2"/>
<text transform="translate(64.1,297.8) scale(1.050,1.000)" font-size="11.5" fill="#111" text-anchor="end" font-weight="bold">95000</text>
<line x1="65.5" y1="490.2" x2="69.5" y2="490.2" stroke="#333" stroke-width="1.2"/>
<line x1="65.5" y1="454.6" x2="69.5" y2="454.6" stroke="#333" stroke-width="1.2"/>
<line x1="65.5" y1="418.9" x2="69.5" y2="418.9" stroke="#333" stroke-width="1.2"/>
<line x1="65.5" y1="383.1" x2="69.5" y2="383.1" stroke="#333" stroke-width="1.2"/>
<line x1="65.5" y1="347.5" x2="69.5" y2="347.5" stroke="#333" stroke-width="1.2"/>
<line x1="65.5" y1="311.8" x2="69.5" y2="311.8" stroke="#333" stroke-width="1.2"/>
<line x1="80.8" y1="517.8" x2="80.8" y2="512.8" stroke="#333" stroke-width="1.2"/>
<text transform="translate(80.2,529.2) scale(0.997,1.000)" font-size="12.2" fill="#111" text-anchor="middle" font-weight="bold">715</text>
<line x1="159.7" y1="517.8" x2="159.7" y2="512.8" stroke="#333" stroke-width="1.2"/>
<text transform="translate(159.1,529.2) scale(0.997,1.000)" font-size="12.2" fill="#111" text-anchor="middle" font-weight="bold">712.5</text>
<line x1="238.6" y1="517.8" x2="238.6" y2="512.8" stroke="#333" stroke-width="1.2"/>
<text transform="translate(238.0,529.2) scale(0.997,1.000)" font-size="12.2" fill="#111" text-anchor="middle" font-weight="bold">710</text>
<line x1="317.5" y1="517.8" x2="317.5" y2="512.8" stroke="#333" stroke-width="1.2"/>
<text transform="translate(316.9,529.2) scale(0.997,1.000)" font-size="12.2" fill="#111" text-anchor="middle" font-weight="bold">707.5</text>
<line x1="80.8" y1="517.8" x2="80.8" y2="514.3" stroke="#333" stroke-width="1.2"/>
<line x1="96.6" y1="517.8" x2="96.6" y2="514.3" stroke="#333" stroke-width="1.2"/>
<line x1="112.4" y1="517.8" x2="112.4" y2="514.3" stroke="#333" stroke-width="1.2"/>
<line x1="128.1" y1="517.8" x2="128.1" y2="514.3" stroke="#333" stroke-width="1.2"/>
<line x1="143.9" y1="517.8" x2="143.9" y2="514.3" stroke="#333" stroke-width="1.2"/>
<line x1="159.7" y1="517.8" x2="159.7" y2="514.3" stroke="#333" stroke-width="1.2"/>
<line x1="175.5" y1="517.8" x2="175.5" y2="514.3" stroke="#333" stroke-width="1.2"/>
<line x1="191.3" y1="517.8" x2="191.3" y2="514.3" stroke="#333" stroke-width="1.2"/>
<line x1="207.0" y1="517.8" x2="207.0" y2="514.3" stroke="#333" stroke-width="1.2"/>
<line x1="222.8" y1="517.8" x2="222.8" y2="514.3" stroke="#333" stroke-width="1.2"/>
<line x1="238.6" y1="517.8" x2="238.6" y2="514.3" stroke="#333" stroke-width="1.2"/>
<line x1="254.4" y1="517.8" x2="254.4" y2="514.3" stroke="#333" stroke-width="1.2"/>
<line x1="270.2" y1="517.8" x2="270.2" y2="514.3" stroke="#333" stroke-width="1.2"/>
<line x1="285.9" y1="517.8" x2="285.9" y2="514.3" stroke="#333" stroke-width="1.2"/>
<line x1="301.7" y1="517.8" x2="301.7" y2="514.3" stroke="#333" stroke-width="1.2"/>
<line x1="317.5" y1="517.8" x2="317.5" y2="514.3" stroke="#333" stroke-width="1.2"/>
<line x1="333.3" y1="517.8" x2="333.3" y2="514.3" stroke="#333" stroke-width="1.2"/>
<text transform="translate(70.5,300.6) scale(1.095,1.000)" font-size="10.7" fill="#111" text-anchor="start" font-weight="bold">Chi square: 5.65831</text>
<text transform="translate(228.3,304.6) scale(1.020,1.000)" font-size="14.4" fill="#8f2f1f" text-anchor="middle" font-weight="bold">Fe 2p</text>
<text transform="translate(328.6,308.2) scale(1.040,1.000)" font-size="19.2" fill="#9a2a1c" text-anchor="end" font-weight="bold">(c)</text>
<text x="204.7" y="551.4" font-size="14.7" fill="#8f2f1f" text-anchor="middle" font-weight="bold">Binding Energy (eV)</text>
<text transform="translate(23.6,419.8) rotate(-90) scale(1.035,1)" font-size="14.5" font-weight="bold" fill="#8f2f1f" text-anchor="middle">Counts</text>
<path d="M66.0,408.9 C69.1,409.0 78.3,409.2 84.7,409.5 C91.1,409.8 97.8,409.9 104.4,410.5 C111.0,411.1 117.5,411.6 124.1,412.9 C130.7,414.2 137.2,416.2 143.8,418.2 C150.4,420.2 156.9,421.9 163.5,424.7 C170.1,427.5 177.2,431.5 183.3,435.1 C189.4,438.7 194.1,442.0 200.0,446.4 C205.9,450.8 212.3,455.8 218.7,461.2 C225.1,466.6 233.2,473.9 238.4,478.5 C243.6,483.1 246.0,485.8 250.0,489.0 C254.0,492.2 258.2,495.2 262.3,497.7 C266.4,500.2 270.4,502.0 274.5,503.8 C278.6,505.6 282.7,507.3 286.8,508.7 C290.9,510.1 294.9,511.5 299.0,512.4 C303.1,513.3 307.2,513.7 311.3,514.2 C315.4,514.7 319.9,515.2 323.5,515.5 C327.1,515.8 331.4,515.9 333.0,516.0" fill="none" stroke="#1e1e1e" stroke-width="1.1" stroke-linejoin="round" stroke-linecap="round"/>
<path d="M104.4,394.5 C106.1,393.5 111.0,390.3 114.3,388.5 C117.6,386.7 120.8,384.9 124.1,383.6 C127.4,382.3 130.7,381.4 134.0,380.7 C137.3,380.0 140.5,379.5 143.8,379.7 C147.1,379.9 150.4,380.3 153.7,381.6 C157.0,382.9 160.6,385.0 163.5,387.6 C166.4,390.2 169.2,394.5 171.4,397.4 C173.6,400.3 173.8,401.3 176.4,405.0 C179.0,408.7 183.3,414.7 187.2,419.8 C191.1,424.9 196.1,430.6 200.0,435.5 C203.9,440.4 207.0,444.7 210.8,449.3 C214.6,453.9 218.1,458.2 222.7,463.1 C227.3,468.0 232.5,473.5 238.4,478.6 C244.3,483.7 254.8,491.3 258.1,493.9" fill="none" stroke="#55e04f" stroke-width="1.1" stroke-linejoin="round" stroke-linecap="round"/>
<path d="M96.5,409.9 C101.1,410.0 117.8,410.8 124.1,410.5 C130.3,410.2 130.7,409.2 134.0,408.3 C137.3,407.4 140.5,406.3 143.8,405.0 C147.1,403.7 150.4,402.8 153.7,400.4 C157.0,398.0 160.2,394.6 163.5,390.5 C166.8,386.4 170.7,379.9 173.4,375.5 C176.2,371.1 177.8,367.4 180.0,364.0 C182.2,360.6 184.5,357.8 186.3,355.0 C188.2,352.2 189.7,349.7 191.1,347.5 C192.5,345.3 193.5,343.5 195.0,342.0 C196.5,340.5 198.3,339.3 200.0,338.4 C201.7,337.4 202.8,336.7 204.9,336.3 C207.0,335.9 210.5,335.4 212.8,336.1 C215.1,336.8 216.7,338.1 218.7,340.3 C220.7,342.5 222.6,346.0 224.6,349.1 C226.6,352.2 228.5,355.1 230.5,359.0 C232.5,362.9 234.6,367.9 236.4,372.8 C238.2,377.7 239.8,383.3 241.4,388.5 C243.1,393.7 244.5,398.8 246.3,404.0 C248.1,409.2 250.2,414.7 252.2,419.8 C254.2,424.9 256.1,428.9 258.1,434.5 C260.1,440.1 262.0,447.2 264.0,453.3 C266.0,459.4 267.7,465.4 270.0,471.0 C272.3,476.6 274.9,482.2 277.8,486.8 C280.8,491.4 284.4,495.3 287.7,498.6 C291.0,501.9 293.9,504.2 297.5,506.5 C301.1,508.8 305.4,510.9 309.4,512.4 C313.3,513.9 317.3,514.8 321.2,515.4 C325.1,516.0 331.0,516.1 333.0,516.3" fill="none" stroke="#e8453f" stroke-width="1.1" stroke-linejoin="round" stroke-linecap="round"/>
<path d="M160.0,422.8 C160.6,422.9 160.9,422.7 163.5,423.7 C166.1,424.7 171.5,427.1 175.4,428.6 C179.3,430.1 183.3,431.6 187.2,432.6 C191.1,433.6 195.1,434.1 199.0,434.5 C202.9,434.9 206.5,435.6 210.8,435.1 C215.1,434.6 219.3,432.6 224.6,431.6 C229.9,430.6 237.5,429.3 242.4,429.2 C247.3,429.1 251.1,430.2 254.2,431.2 C257.3,432.2 259.0,433.5 261.0,435.0 C263.0,436.5 264.5,438.4 266.0,440.0 C267.5,441.6 267.8,441.2 270.2,444.3 C272.6,447.4 277.4,454.0 280.6,458.4 C283.8,462.8 286.1,466.4 289.2,470.7 C292.3,475.0 295.7,480.1 299.0,484.2 C302.3,488.3 305.6,491.9 308.9,495.2 C312.2,498.5 315.4,501.4 318.7,503.8 C322.0,506.2 326.1,508.0 328.5,509.3 C330.9,510.6 332.2,511.1 333.0,511.5" fill="none" stroke="#3fa79a" stroke-width="1.1" stroke-linejoin="round" stroke-linecap="round"/>
<path d="M66.0,409.8 C66.5,409.7 68.0,409.1 69.0,408.8 C70.0,408.5 70.9,408.1 71.9,407.8 C72.9,407.4 74.0,406.8 74.9,406.6 C75.8,406.4 76.6,406.6 77.5,406.6 C78.4,406.5 79.2,406.6 80.1,406.3 C81.0,405.9 81.8,405.1 82.7,404.6 C83.6,404.0 84.7,403.6 85.7,403.1 C86.6,402.6 87.6,402.1 88.6,401.6 C89.6,401.2 90.6,400.9 91.6,400.5 C92.6,400.0 93.7,399.6 94.6,399.0 C95.5,398.4 96.2,397.3 97.0,396.9 C97.9,396.5 98.7,396.9 99.5,396.6 C100.3,396.3 101.1,395.6 102.0,395.2 C102.8,394.7 103.5,394.4 104.4,393.8 C105.3,393.2 106.3,392.3 107.2,391.8 C108.1,391.3 109.2,391.0 110.0,390.6 C110.8,390.3 111.4,390.1 112.2,389.5 C112.9,389.0 113.6,388.0 114.3,387.3 C115.0,386.7 115.6,386.1 116.3,385.4 C116.9,384.8 117.6,384.2 118.2,383.6 C118.9,383.0 119.5,382.1 120.2,381.6 C120.8,381.2 121.5,381.5 122.1,381.1 C122.8,380.7 123.3,380.0 124.1,379.4 C124.9,378.8 126.1,378.4 127.0,377.5 C128.0,376.7 128.8,375.4 130.0,374.5 C131.2,373.6 132.9,372.7 134.0,372.2 C135.1,371.7 135.6,371.8 136.4,371.3 C137.3,370.7 138.1,369.5 138.9,368.8 C139.7,368.0 140.5,367.4 141.4,366.7 C142.2,366.1 142.9,365.6 143.8,365.1 C144.7,364.6 145.9,364.3 146.9,363.9 C147.9,363.4 149.0,363.2 150.0,362.4 C151.0,361.6 152.1,360.0 153.0,359.2 C153.9,358.4 154.6,358.1 155.3,357.6 C156.1,357.1 156.9,356.9 157.7,356.4 C158.4,355.9 159.3,355.2 160.0,354.6 C160.7,354.0 161.3,353.2 162.0,352.6 C162.7,351.9 163.3,351.4 164.0,350.8 C164.7,350.2 165.3,349.3 166.0,348.8 C166.7,348.4 167.3,348.4 167.9,347.9 C168.5,347.5 169.2,346.5 169.8,345.9 C170.4,345.3 171.0,345.0 171.7,344.3 C172.4,343.7 173.1,342.7 173.8,342.0 C174.6,341.2 175.2,340.7 176.0,340.0 C176.8,339.4 177.6,338.6 178.5,338.0 C179.3,337.4 180.1,337.3 180.9,336.6 C181.8,335.9 182.6,334.8 183.4,333.9 C184.2,333.1 184.8,332.4 185.6,331.6 C186.3,330.7 187.0,329.5 187.8,328.8 C188.5,328.0 189.2,327.7 189.9,327.1 C190.7,326.5 191.3,325.9 192.1,325.3 C192.9,324.8 193.7,324.5 194.6,323.8 C195.4,323.1 196.1,322.0 197.0,321.1 C197.9,320.2 198.9,319.0 200.0,318.4 C201.1,317.7 202.3,317.9 203.4,317.4 C204.6,316.9 205.9,316.1 206.9,315.5 C207.9,314.9 208.6,314.5 209.4,313.9 C210.3,313.3 211.0,312.2 212.0,311.9 C213.0,311.6 214.2,312.2 215.3,312.2 C216.5,312.1 217.6,311.7 218.7,311.7 C219.8,311.6 220.7,311.6 221.6,311.8 C222.6,312.1 223.8,312.5 224.6,313.2 C225.4,314.0 225.9,315.4 226.6,316.2 C227.2,317.1 227.9,317.9 228.6,318.5 C229.2,319.1 229.9,319.4 230.5,320.1 C231.2,320.7 231.9,321.7 232.5,322.3 C233.1,323.0 233.5,323.2 234.0,323.9 C234.5,324.6 235.0,325.6 235.4,326.5 C235.9,327.4 236.4,328.5 236.9,329.3 C237.4,330.1 238.0,330.5 238.4,331.3 C238.8,332.0 239.2,332.9 239.6,333.8 C240.0,334.7 240.4,335.7 240.8,336.5 C241.2,337.4 241.5,338.0 241.9,338.7 C242.3,339.4 242.7,339.8 243.1,340.5 C243.5,341.2 243.9,342.0 244.3,342.9 C244.7,343.7 245.0,344.7 245.3,345.5 C245.6,346.4 245.9,347.2 246.3,348.0 C246.6,348.8 246.9,349.4 247.2,350.2 C247.6,350.9 247.9,351.7 248.2,352.5 C248.6,353.4 248.9,354.4 249.2,355.3 C249.5,356.2 249.9,357.2 250.2,358.1 C250.5,358.9 250.9,359.6 251.2,360.3 C251.5,360.9 251.9,361.4 252.2,362.1 C252.5,362.7 252.9,363.4 253.2,364.1 C253.5,364.9 253.9,365.7 254.2,366.5 C254.5,367.3 254.9,368.1 255.2,368.8 C255.5,369.6 255.9,370.1 256.2,370.8 C256.5,371.5 256.8,372.3 257.0,373.1 C257.3,373.9 257.6,374.9 257.9,375.8 C258.2,376.8 258.4,377.9 258.7,378.9 C259.0,379.9 259.3,380.9 259.6,381.8 C259.9,382.8 260.1,383.6 260.4,384.4 C260.7,385.2 261.0,386.0 261.3,386.8 C261.5,387.6 261.8,388.3 262.1,389.2 C262.4,390.1 262.6,391.0 262.9,391.9 C263.2,392.9 263.5,393.8 263.7,394.7 C264.0,395.5 264.3,396.3 264.6,397.1 C264.8,397.8 265.1,398.5 265.4,399.2 C265.6,399.9 265.9,400.5 266.2,401.3 C266.5,402.1 266.7,402.9 267.0,403.8 C267.3,404.7 267.8,405.9 268.1,406.8 C268.5,407.8 268.9,408.8 269.3,409.7 C269.7,410.6 270.1,411.3 270.4,412.2 C270.8,413.1 271.2,414.1 271.6,415.1 C272.0,416.1 272.4,417.3 272.8,418.3 C273.1,419.3 273.6,420.2 273.9,421.0 C274.2,421.8 274.4,422.4 274.7,423.1 C274.9,423.8 275.2,424.4 275.4,425.2 C275.7,425.9 275.9,426.7 276.2,427.5 C276.4,428.3 276.7,429.2 276.9,430.0 C277.2,430.8 277.5,431.7 277.7,432.5 C278.0,433.3 278.2,434.1 278.5,434.8 C278.7,435.6 279.0,436.3 279.2,437.0 C279.5,437.7 279.7,438.4 280.0,439.3 C280.3,440.1 280.8,441.1 281.2,442.0 C281.6,443.0 281.9,444.1 282.3,445.1 C282.7,446.0 283.1,446.7 283.5,447.5 C283.9,448.2 284.3,448.8 284.7,449.5 C285.1,450.3 285.4,451.2 285.8,452.0 C286.2,452.8 286.6,453.8 287.0,454.5 C287.4,455.2 287.9,455.5 288.4,456.1 C288.9,456.7 289.3,457.2 289.8,458.0 C290.3,458.8 290.7,460.0 291.2,460.9 C291.7,461.7 292.1,462.6 292.6,463.4 C293.1,464.2 293.5,464.8 294.0,465.7 C294.5,466.6 294.9,467.9 295.4,468.7 C295.9,469.6 296.5,470.3 297.0,470.9 C297.6,471.4 298.1,471.6 298.6,472.1 C299.2,472.7 299.7,473.6 300.2,474.2 C300.8,474.9 301.3,475.4 301.9,476.0 C302.4,476.6 302.9,477.0 303.5,477.8 C304.0,478.6 304.5,480.0 305.1,480.8 C305.7,481.7 306.3,482.4 306.8,483.1 C307.4,483.9 308.0,484.5 308.6,485.3 C309.1,486.0 309.7,487.0 310.3,487.6 C310.8,488.2 311.4,488.2 312.0,488.9 C312.6,489.5 313.1,490.5 313.7,491.4 C314.2,492.3 314.8,493.3 315.4,494.1 C315.9,495.0 316.5,495.6 317.0,496.5 C317.6,497.4 318.1,498.8 318.7,499.6 C319.3,500.5 320.1,500.9 320.9,501.6 C321.6,502.3 322.3,503.1 323.0,503.8 C323.7,504.6 324.4,505.0 325.1,505.8 C325.8,506.6 326.6,507.5 327.2,508.5 C327.8,509.6 328.0,511.1 328.4,512.2 C328.8,513.4 329.2,514.4 329.6,515.2 C330.0,516.1 330.4,517.1 330.5,517.5" fill="none" stroke="#2a2ae6" stroke-width="1.0" stroke-linejoin="round" stroke-linecap="round"/>
<path d="M66.0,408.9 C67.5,408.5 71.1,407.3 74.9,406.4 C78.7,405.5 85.3,404.7 88.6,403.5 C91.9,402.3 92.0,400.9 94.6,399.4 C97.2,397.9 101.1,396.5 104.4,394.5 C107.7,392.5 111.0,390.1 114.3,387.6 C117.6,385.1 120.8,382.2 124.1,379.7 C127.4,377.2 130.5,375.1 134.0,372.8 C137.5,370.6 142.0,368.3 145.2,366.2 C148.4,364.1 150.5,362.1 153.0,360.2 C155.5,358.3 156.9,357.3 160.0,354.7 C163.1,352.1 167.8,348.2 171.7,344.8 C175.6,341.4 180.0,337.5 183.4,334.3 C186.8,331.1 189.3,328.3 192.1,325.5 C194.9,322.7 197.5,319.9 200.0,317.6 C202.5,315.3 204.1,313.1 206.9,311.7 C209.7,310.3 213.8,309.4 216.7,309.3 C219.6,309.2 222.0,309.5 224.6,311.2 C227.2,312.9 230.2,316.6 232.5,319.6 C234.8,322.6 236.4,325.5 238.4,329.4 C240.4,333.3 242.3,338.6 244.3,343.2 C246.3,347.8 248.2,352.4 250.2,357.0 C252.2,361.6 254.2,365.6 256.2,370.8 C258.2,376.1 260.3,383.0 262.1,388.5 C263.9,394.0 265.0,398.7 267.0,404.0 C269.0,409.3 271.7,414.5 273.9,420.5 C276.1,426.5 277.9,434.5 280.0,440.0 C282.1,445.5 284.2,448.6 286.8,453.5 C289.4,458.4 292.8,464.7 295.4,469.4 C298.0,474.1 300.0,477.8 302.7,481.7 C305.4,485.6 308.2,489.1 311.3,492.8 C314.4,496.5 318.2,501.2 321.1,503.8 C324.0,506.4 326.4,507.5 328.5,508.7 C330.6,509.9 333.1,510.8 334.0,511.2" fill="none" stroke="#1e1e1e" stroke-width="1.0" stroke-linejoin="round" stroke-linecap="round"/>
<text x="76.2" y="376.7" font-size="14.3" fill="#3db54a" text-anchor="start" font-weight="bold">FeOOH</text>
<line x1="101.5" y1="378.7" x2="123.7" y2="396.4" stroke="#28a844" stroke-width="1.3"/>
<path d="M130,401.4 L121.5,399.2 L126.0,393.6 Z" fill="#28a844"/>
<text x="250.6" y="316.9" font-size="14.6" fill="#9b2a1e" font-weight="bold"><tspan dy="0.0">Fe</tspan><tspan font-size="9.6" dy="3.2">2</tspan><tspan dy="-3.2">O</tspan><tspan font-size="9.6" dy="3.2">3</tspan></text>
<line x1="263" y1="321.5" x2="226.5" y2="343.9" stroke="#b3261e" stroke-width="1.3"/>
<path d="M219.7,348.1 L224.6,340.8 L228.4,347.0 Z" fill="#b3261e"/>
<text x="277.8" y="415.5" font-size="14.6" fill="#2a6e28" font-weight="bold"><tspan dy="0.0">Fe</tspan><tspan font-size="9.6" dy="3.2">3</tspan><tspan dy="-3.2">O</tspan><tspan font-size="9.6" dy="3.2">4</tspan></text>
<line x1="295.6" y1="417.8" x2="271.0" y2="439.2" stroke="#2f73c7" stroke-width="1.3"/>
<path d="M265,444.4 L268.7,436.4 L273.4,441.9 Z" fill="#2f73c7"/>
<line x1="149.7" y1="373.8" x2="149.7" y2="378.7" stroke="#333" stroke-width="1.3"/>
<text transform="translate(154.7,365.4) rotate(-90)" font-size="10.1" font-weight="bold" fill="#111" text-anchor="middle">A</text>
<line x1="217.1" y1="330.4" x2="217.1" y2="337.3" stroke="#333" stroke-width="1.3"/>
<text transform="translate(221.7,323.9) rotate(-90)" font-size="10.1" font-weight="bold" fill="#111" text-anchor="middle">B</text>
<line x1="259.7" y1="427.7" x2="259.7" y2="433.6" stroke="#333" stroke-width="1.3"/>
<text transform="translate(264.0,420.2) rotate(-90)" font-size="8.7" font-weight="bold" fill="#111" text-anchor="middle">C</text>
<rect x="400.5" y="289.9" width="267.0" height="228.39999999999998" fill="none" stroke="#333" stroke-width="1.25"/>
<line x1="400.5" y1="508.4" x2="406.0" y2="508.4" stroke="#333" stroke-width="1.2"/>
<text transform="translate(398.7,512.1) scale(1.110,1.000)" font-size="10.9" fill="#111" text-anchor="end" font-weight="bold">1600</text>
<line x1="400.5" y1="480.1" x2="406.0" y2="480.1" stroke="#333" stroke-width="1.2"/>
<text transform="translate(398.7,483.9) scale(1.110,1.000)" font-size="10.9" fill="#111" text-anchor="end" font-weight="bold">2000</text>
<line x1="400.5" y1="451.9" x2="406.0" y2="451.9" stroke="#333" stroke-width="1.2"/>
<text transform="translate(398.7,455.6) scale(1.110,1.000)" font-size="10.9" fill="#111" text-anchor="end" font-weight="bold">2400</text>
<line x1="400.5" y1="423.6" x2="406.0" y2="423.6" stroke="#333" stroke-width="1.2"/>
<text transform="translate(398.7,427.4) scale(1.110,1.000)" font-size="10.9" fill="#111" text-anchor="end" font-weight="bold">2800</text>
<line x1="400.5" y1="395.4" x2="406.0" y2="395.4" stroke="#333" stroke-width="1.2"/>
<text transform="translate(398.7,399.1) scale(1.110,1.000)" font-size="10.9" fill="#111" text-anchor="end" font-weight="bold">3200</text>
<line x1="400.5" y1="367.1" x2="406.0" y2="367.1" stroke="#333" stroke-width="1.2"/>
<text transform="translate(398.7,370.9) scale(1.110,1.000)" font-size="10.9" fill="#111" text-anchor="end" font-weight="bold">3600</text>
<line x1="400.5" y1="338.9" x2="406.0" y2="338.9" stroke="#333" stroke-width="1.2"/>
<text transform="translate(398.7,342.6) scale(1.110,1.000)" font-size="10.9" fill="#111" text-anchor="end" font-weight="bold">4000</text>
<line x1="400.5" y1="310.6" x2="406.0" y2="310.6" stroke="#333" stroke-width="1.2"/>
<text transform="translate(398.7,314.4) scale(1.110,1.000)" font-size="10.9" fill="#111" text-anchor="end" font-weight="bold">4400</text>
<line x1="400.5" y1="494.3" x2="404.5" y2="494.3" stroke="#333" stroke-width="1.2"/>
<line x1="400.5" y1="466.0" x2="404.5" y2="466.0" stroke="#333" stroke-width="1.2"/>
<line x1="400.5" y1="437.8" x2="404.5" y2="437.8" stroke="#333" stroke-width="1.2"/>
<line x1="400.5" y1="409.5" x2="404.5" y2="409.5" stroke="#333" stroke-width="1.2"/>
<line x1="400.5" y1="381.3" x2="404.5" y2="381.3" stroke="#333" stroke-width="1.2"/>
<line x1="400.5" y1="353.0" x2="404.5" y2="353.0" stroke="#333" stroke-width="1.2"/>
<line x1="400.5" y1="324.8" x2="404.5" y2="324.8" stroke="#333" stroke-width="1.2"/>
<line x1="400.5" y1="296.5" x2="404.5" y2="296.5" stroke="#333" stroke-width="1.2"/>
<line x1="417.1" y1="518.3" x2="417.1" y2="513.3" stroke="#333" stroke-width="1.2"/>
<text transform="translate(417.1,529.6) scale(1.013,1.000)" font-size="11.6" fill="#111" text-anchor="middle" font-weight="bold">715</text>
<line x1="500.3" y1="518.3" x2="500.3" y2="513.3" stroke="#333" stroke-width="1.2"/>
<text transform="translate(500.3,529.6) scale(1.013,1.000)" font-size="11.6" fill="#111" text-anchor="middle" font-weight="bold">712.5</text>
<line x1="583.5" y1="518.3" x2="583.5" y2="513.3" stroke="#333" stroke-width="1.2"/>
<text transform="translate(583.5,529.6) scale(1.013,1.000)" font-size="11.6" fill="#111" text-anchor="middle" font-weight="bold">710</text>
<line x1="666.7" y1="518.3" x2="666.7" y2="513.3" stroke="#333" stroke-width="1.2"/>
<text transform="translate(666.7,529.6) scale(1.013,1.000)" font-size="11.6" fill="#111" text-anchor="middle" font-weight="bold">707.5</text>
<line x1="417.1" y1="518.3" x2="417.1" y2="514.8" stroke="#333" stroke-width="1.2"/>
<line x1="433.7" y1="518.3" x2="433.7" y2="514.8" stroke="#333" stroke-width="1.2"/>
<line x1="450.4" y1="518.3" x2="450.4" y2="514.8" stroke="#333" stroke-width="1.2"/>
<line x1="467.0" y1="518.3" x2="467.0" y2="514.8" stroke="#333" stroke-width="1.2"/>
<line x1="483.7" y1="518.3" x2="483.7" y2="514.8" stroke="#333" stroke-width="1.2"/>
<line x1="500.3" y1="518.3" x2="500.3" y2="514.8" stroke="#333" stroke-width="1.2"/>
<line x1="516.9" y1="518.3" x2="516.9" y2="514.8" stroke="#333" stroke-width="1.2"/>
<line x1="533.6" y1="518.3" x2="533.6" y2="514.8" stroke="#333" stroke-width="1.2"/>
<line x1="550.2" y1="518.3" x2="550.2" y2="514.8" stroke="#333" stroke-width="1.2"/>
<line x1="566.9" y1="518.3" x2="566.9" y2="514.8" stroke="#333" stroke-width="1.2"/>
<line x1="583.5" y1="518.3" x2="583.5" y2="514.8" stroke="#333" stroke-width="1.2"/>
<line x1="600.1" y1="518.3" x2="600.1" y2="514.8" stroke="#333" stroke-width="1.2"/>
<line x1="616.8" y1="518.3" x2="616.8" y2="514.8" stroke="#333" stroke-width="1.2"/>
<line x1="633.4" y1="518.3" x2="633.4" y2="514.8" stroke="#333" stroke-width="1.2"/>
<line x1="650.1" y1="518.3" x2="650.1" y2="514.8" stroke="#333" stroke-width="1.2"/>
<line x1="666.7" y1="518.3" x2="666.7" y2="514.8" stroke="#333" stroke-width="1.2"/>
<text transform="translate(404.3,300.2) scale(1.085,1.000)" font-size="10.8" fill="#111" text-anchor="start" font-weight="bold">Chi square: 2.33567</text>
<text transform="translate(551.5,306.5) scale(1.027,1.000)" font-size="14.4" fill="#8f2f1f" text-anchor="middle" font-weight="bold">Fe 2p</text>
<text transform="translate(664.7,309.0) scale(1.059,1.000)" font-size="19" fill="#9a2a1c" text-anchor="end" font-weight="bold">(d)</text>
<text transform="translate(544.5,550.7) scale(1.017,1.000)" font-size="14.6" fill="#8f2f1f" text-anchor="middle" font-weight="bold">Binding Energy (eV)</text>
<text transform="translate(368.8,418.3) rotate(-90) scale(1.030,1)" font-size="14.4" font-weight="bold" fill="#8f2f1f" text-anchor="middle">Count</text>
<text transform="translate(385.9,435.1) rotate(-90) scale(1.000,1)" font-size="14.4" font-weight="bold" fill="#8f2f1f" text-anchor="middle">s</text>
<path d="M401.0,435.3 C404.1,435.6 413.2,436.4 419.6,436.9 C426.0,437.4 432.6,437.5 439.1,438.2 C445.6,438.9 452.2,439.9 458.7,441.2 C465.2,442.5 471.7,444.5 478.2,446.1 C484.7,447.7 491.3,448.9 497.8,451.0 C504.3,453.1 511.5,456.3 517.4,458.8 C523.3,461.3 527.1,463.1 533.0,466.1 C538.9,469.1 546.1,473.0 552.7,476.9 C559.3,480.8 567.9,486.6 572.4,489.5 C576.9,492.4 576.6,492.6 580.0,494.6 C583.4,496.6 588.5,499.6 592.8,501.6 C597.1,503.6 601.4,505.3 605.7,506.8 C610.0,508.3 614.2,509.7 618.5,510.6 C622.8,511.6 627.3,512.1 631.4,512.5 C635.5,512.9 641.1,513.1 643.0,513.2" fill="none" stroke="#1e1e1e" stroke-width="1.1" stroke-linejoin="round" stroke-linecap="round"/>
<path d="M455.0,401.5 C456.1,400.6 459.4,397.6 461.9,396.3 C464.4,395.0 467.5,394.2 470.0,393.6 C472.5,393.0 474.1,392.3 477.1,392.7 C480.1,393.1 484.5,394.2 487.8,395.9 C491.1,397.6 494.4,401.0 496.8,403.0 C499.2,405.0 499.9,405.5 502.1,407.9 C504.3,410.3 507.3,413.5 510.1,417.3 C512.9,421.1 516.0,426.2 519.1,430.7 C522.2,435.2 526.6,441.2 528.9,444.5 C531.2,447.8 530.4,447.2 533.0,450.3 C535.6,453.4 540.8,458.8 544.8,463.1 C548.8,467.4 553.2,472.5 556.7,475.9 C560.2,479.3 563.1,481.3 566.0,483.5 C568.9,485.7 572.7,488.2 574.0,489.2" fill="none" stroke="#55e04f" stroke-width="1.1" stroke-linejoin="round" stroke-linecap="round"/>
<path d="M425.4,437.3 C429.3,437.6 442.8,438.9 448.9,439.2 C455.0,439.5 458.5,439.3 462.0,439.0 C465.5,438.7 467.2,438.2 470.0,437.3 C472.8,436.4 475.9,435.5 478.9,433.8 C481.9,432.1 484.8,430.2 487.8,427.1 C490.8,424.1 494.4,418.9 496.8,415.5 C499.2,412.1 500.3,410.0 502.1,406.6 C503.9,403.2 505.7,398.7 507.5,395.0 C509.3,391.3 511.0,388.5 512.8,384.3 C514.6,380.1 516.3,374.2 518.2,370.0 C520.1,365.8 522.4,362.9 524.4,359.0 C526.4,355.1 528.6,350.2 530.5,346.8 C532.4,343.4 534.2,340.8 535.8,338.9 C537.4,337.0 538.7,336.2 540.2,335.6 C541.7,335.0 543.2,334.9 545.0,335.3 C546.8,335.8 548.8,336.3 550.7,338.3 C552.7,340.3 554.7,343.4 556.7,347.2 C558.7,351.0 560.6,355.8 562.6,361.0 C564.6,366.2 566.9,373.4 568.5,378.7 C570.1,383.9 571.2,388.1 572.4,392.5 C573.5,396.9 574.1,400.2 575.4,405.0 C576.7,409.8 578.7,415.2 580.3,421.0 C581.9,426.8 583.0,433.0 585.1,440.0 C587.2,447.0 590.4,457.1 592.8,463.1 C595.2,469.1 596.7,471.5 599.3,476.0 C601.9,480.5 605.1,485.5 608.3,490.0 C611.5,494.5 614.6,499.6 618.5,503.0 C622.4,506.4 627.3,508.9 631.4,510.6 C635.5,512.3 641.1,512.8 643.0,513.2" fill="none" stroke="#e8453f" stroke-width="1.1" stroke-linejoin="round" stroke-linecap="round"/>
<path d="M515.0,458.0 C516.7,458.7 522.0,461.2 525.0,462.0 C528.0,462.8 530.0,462.6 533.0,462.7 C536.0,462.8 539.6,463.9 542.9,462.7 C546.2,461.4 549.4,458.8 552.7,455.2 C556.0,451.6 559.3,446.3 562.6,441.4 C565.9,436.5 569.5,430.0 572.4,425.7 C575.3,421.4 577.7,418.2 580.3,415.8 C582.9,413.4 585.6,411.3 588.2,411.3 C590.8,411.3 593.5,412.8 596.1,415.8 C598.7,418.9 601.4,424.0 604.0,429.6 C606.6,435.2 609.2,442.4 611.8,449.3 C614.4,456.2 617.1,464.4 619.7,471.0 C622.3,477.6 625.0,483.8 627.6,488.7 C630.2,493.6 633.0,497.6 635.5,500.6 C638.0,503.6 641.2,505.5 642.4,506.5" fill="none" stroke="#3fa79a" stroke-width="1.1" stroke-linejoin="round" stroke-linecap="round"/>
<path d="M401.0,435.3 L403.9,429.4 L407.8,435.3 L411.7,420.6 L415.6,419.6 L419.6,421.6 L423.5,429.4 L427.4,411.8 L431.3,419.6 L437.2,423.6 L440.0,411.2 L444.4,405.0 L449.6,404.2 L454.9,408.1 L460.1,398.9 L464.5,402.4 L470.6,393.6 L475.0,386.2 L477.7,389.3 L480.3,381.4 L485.5,375.3 L488.5,374.0 L492.9,367.8 L498.1,368.7 L504.7,351.2 L509.5,352.0 L517.4,343.3 L520.9,333.6 L523.5,331.9 L531.0,318.8 L534.0,323.1 L537.5,324.9 L541.0,329.7 L545.0,325.8 L548.8,318.0 L552.7,315.6 L557.6,315.2 L560.5,318.6 L564.5,321.5 L568.1,311.7 L570.4,329.4 L574.4,332.5 L577.3,338.3 L582.3,346.2 L585.2,349.1 L586.2,353.1 L590.2,362.9 L592.1,372.8 L595.1,380.7 L598.0,388.5 L602.0,403.0 L607.9,418.5 L613.8,437.5 L619.7,459.5 L625.6,480.9 L627.6,480.0 L631.5,490.7 L635.5,493.6 L637.5,490.7 L640.4,504.5 L643.4,513.4 L647.3,511.4 L651.3,517.3 L655.2,514.4 L659.1,517.8" fill="none" stroke="#2a2ae6" stroke-width="1.0" stroke-linejoin="round" stroke-linecap="round"/>
<path d="M401.0,434.8 C402.2,434.2 404.3,433.1 408.2,431.5 C412.1,429.9 419.2,428.2 424.5,425.4 C429.8,422.6 435.9,417.6 440.0,414.7 C444.1,411.8 445.9,410.2 448.8,407.7 C451.7,405.2 454.6,402.4 457.5,399.8 C460.4,397.2 463.4,394.4 466.3,391.9 C469.2,389.4 472.4,387.1 475.0,384.9 C477.6,382.7 479.8,380.4 482.0,378.8 C484.2,377.2 485.8,377.1 488.5,375.0 C491.2,372.9 495.0,369.2 498.1,366.0 C501.2,362.8 504.0,359.0 506.9,355.5 C509.8,352.0 512.7,348.8 515.6,345.0 C518.5,341.2 521.5,336.6 524.4,332.8 C527.3,329.0 530.4,324.9 533.2,322.3 C536.0,319.7 538.4,318.1 541.0,317.0 C543.6,315.9 546.2,315.5 548.8,315.6 C551.4,315.7 554.1,316.3 556.7,317.6 C559.3,318.9 561.9,321.0 564.5,323.5 C567.1,326.0 569.8,329.1 572.4,332.4 C575.0,335.7 577.7,339.1 580.3,343.2 C582.9,347.3 585.9,352.1 588.2,357.0 C590.5,361.9 592.5,367.6 594.1,372.8 C595.7,378.1 596.7,383.1 598.0,388.5 C599.3,393.9 600.4,399.8 602.0,405.0 C603.6,410.2 605.9,414.1 607.9,419.8 C609.9,425.6 611.8,432.6 613.8,439.5 C615.8,446.4 617.7,454.6 619.7,461.2 C621.7,467.8 623.3,473.3 625.6,478.9 C627.9,484.5 630.5,490.1 633.5,494.7 C636.5,499.3 641.8,504.5 643.4,506.5" fill="none" stroke="#1e1e1e" stroke-width="1.1" stroke-linejoin="round" stroke-linecap="round"/>
<text x="419.6" y="395.6" font-size="14.7" fill="#3db54a" text-anchor="start" font-weight="bold">FeOOH</text>
<line x1="446" y1="398" x2="466.0" y2="413.3" stroke="#28a844" stroke-width="1.3"/>
<path d="M472.4,418.1 L463.9,416.1 L468.2,410.4 Z" fill="#28a844"/>
<text x="588.2" y="338.2" font-size="14.6" fill="#9b2a1e" font-weight="bold"><tspan dy="0.0">Fe</tspan><tspan font-size="9.6" dy="3.2">2</tspan><tspan dy="-3.2">O</tspan><tspan font-size="9.6" dy="3.2">3</tspan></text>
<line x1="600" y1="342.8" x2="558.0" y2="376.0" stroke="#b3261e" stroke-width="1.3"/>
<path d="M551.7,381 L555.7,373.2 L560.2,378.9 Z" fill="#b3261e"/>
<text x="614.2" y="432.9" font-size="14.6" fill="#2a6e28" font-weight="bold"><tspan dy="0.0">Fe</tspan><tspan font-size="9.6" dy="3.2">3</tspan><tspan dy="-3.2">O</tspan><tspan font-size="9.6" dy="3.2">4</tspan></text>
<line x1="631.5" y1="434.5" x2="607.9" y2="455.8" stroke="#2f73c7" stroke-width="1.3"/>
<path d="M602,461.2 L605.5,453.2 L610.3,458.5 Z" fill="#2f73c7"/>
<line x1="482.7" y1="385.9" x2="482.7" y2="391.7" stroke="#333" stroke-width="1.3"/>
<text transform="translate(488.0,379.0) rotate(-90)" font-size="10.0" font-weight="bold" fill="#111" text-anchor="middle">A</text>
<line x1="546.4" y1="328.4" x2="546.4" y2="334.3" stroke="#333" stroke-width="1.3"/>
<text transform="translate(551.7,321.1) rotate(-90)" font-size="11.6" font-weight="bold" fill="#111" text-anchor="middle">B</text>
<line x1="591.1" y1="404" x2="591.1" y2="410" stroke="#333" stroke-width="1.3"/>
<text transform="translate(596.1,396.9) rotate(-90)" font-size="8.7" font-weight="bold" fill="#111" text-anchor="middle">C</text>
<rect x="66.5" y="568.6" width="267.5" height="226.5" fill="none" stroke="#333" stroke-width="1.25"/>
<line x1="66.5" y1="780.7" x2="72.0" y2="780.7" stroke="#333" stroke-width="1.2"/>
<text transform="translate(65.2,784.9) scale(1.190,1.000)" font-size="12.3" fill="#111" text-anchor="end" font-weight="bold">590</text>
<line x1="66.5" y1="751.8" x2="72.0" y2="751.8" stroke="#333" stroke-width="1.2"/>
<text transform="translate(65.2,756.0) scale(1.190,1.000)" font-size="12.3" fill="#111" text-anchor="end" font-weight="bold">610</text>
<line x1="66.5" y1="722.9" x2="72.0" y2="722.9" stroke="#333" stroke-width="1.2"/>
<text transform="translate(65.2,727.1) scale(1.190,1.000)" font-size="12.3" fill="#111" text-anchor="end" font-weight="bold">630</text>
<line x1="66.5" y1="694.0" x2="72.0" y2="694.0" stroke="#333" stroke-width="1.2"/>
<text transform="translate(65.2,698.2) scale(1.190,1.000)" font-size="12.3" fill="#111" text-anchor="end" font-weight="bold">650</text>
<line x1="66.5" y1="665.1" x2="72.0" y2="665.1" stroke="#333" stroke-width="1.2"/>
<text transform="translate(65.2,669.3) scale(1.190,1.000)" font-size="12.3" fill="#111" text-anchor="end" font-weight="bold">670</text>
<line x1="66.5" y1="636.2" x2="72.0" y2="636.2" stroke="#333" stroke-width="1.2"/>
<text transform="translate(65.2,640.4) scale(1.190,1.000)" font-size="12.3" fill="#111" text-anchor="end" font-weight="bold">690</text>
<line x1="66.5" y1="607.3" x2="72.0" y2="607.3" stroke="#333" stroke-width="1.2"/>
<text transform="translate(65.2,611.5) scale(1.190,1.000)" font-size="12.3" fill="#111" text-anchor="end" font-weight="bold">710</text>
<line x1="66.5" y1="578.4" x2="72.0" y2="578.4" stroke="#333" stroke-width="1.2"/>
<text transform="translate(65.2,582.6) scale(1.190,1.000)" font-size="12.3" fill="#111" text-anchor="end" font-weight="bold">730</text>
<line x1="66.5" y1="766.2" x2="70.5" y2="766.2" stroke="#333" stroke-width="1.2"/>
<line x1="66.5" y1="737.4" x2="70.5" y2="737.4" stroke="#333" stroke-width="1.2"/>
<line x1="66.5" y1="708.5" x2="70.5" y2="708.5" stroke="#333" stroke-width="1.2"/>
<line x1="66.5" y1="679.6" x2="70.5" y2="679.6" stroke="#333" stroke-width="1.2"/>
<line x1="66.5" y1="650.7" x2="70.5" y2="650.7" stroke="#333" stroke-width="1.2"/>
<line x1="66.5" y1="621.8" x2="70.5" y2="621.8" stroke="#333" stroke-width="1.2"/>
<line x1="66.5" y1="592.9" x2="70.5" y2="592.9" stroke="#333" stroke-width="1.2"/>
<line x1="66.5" y1="795.2" x2="70.5" y2="795.2" stroke="#333" stroke-width="1.2"/>
<line x1="82.9" y1="795.1" x2="82.9" y2="790.1" stroke="#333" stroke-width="1.2"/>
<text transform="translate(82.9,807.2) scale(1.180,1.000)" font-size="12.3" fill="#111" text-anchor="middle" font-weight="bold">581.5</text>
<line x1="182.6" y1="795.1" x2="182.6" y2="790.1" stroke="#333" stroke-width="1.2"/>
<text transform="translate(182.6,807.2) scale(1.180,1.000)" font-size="12.3" fill="#111" text-anchor="middle" font-weight="bold">578.5</text>
<line x1="282.3" y1="795.1" x2="282.3" y2="790.1" stroke="#333" stroke-width="1.2"/>
<text transform="translate(282.3,807.2) scale(1.180,1.000)" font-size="12.3" fill="#111" text-anchor="middle" font-weight="bold">575.5</text>
<line x1="82.9" y1="795.1" x2="82.9" y2="791.6" stroke="#333" stroke-width="1.2"/>
<line x1="99.5" y1="795.1" x2="99.5" y2="791.6" stroke="#333" stroke-width="1.2"/>
<line x1="116.1" y1="795.1" x2="116.1" y2="791.6" stroke="#333" stroke-width="1.2"/>
<line x1="132.7" y1="795.1" x2="132.7" y2="791.6" stroke="#333" stroke-width="1.2"/>
<line x1="149.4" y1="795.1" x2="149.4" y2="791.6" stroke="#333" stroke-width="1.2"/>
<line x1="166.0" y1="795.1" x2="166.0" y2="791.6" stroke="#333" stroke-width="1.2"/>
<line x1="182.6" y1="795.1" x2="182.6" y2="791.6" stroke="#333" stroke-width="1.2"/>
<line x1="199.2" y1="795.1" x2="199.2" y2="791.6" stroke="#333" stroke-width="1.2"/>
<line x1="215.8" y1="795.1" x2="215.8" y2="791.6" stroke="#333" stroke-width="1.2"/>
<line x1="232.4" y1="795.1" x2="232.4" y2="791.6" stroke="#333" stroke-width="1.2"/>
<line x1="249.0" y1="795.1" x2="249.0" y2="791.6" stroke="#333" stroke-width="1.2"/>
<line x1="265.7" y1="795.1" x2="265.7" y2="791.6" stroke="#333" stroke-width="1.2"/>
<line x1="282.3" y1="795.1" x2="282.3" y2="791.6" stroke="#333" stroke-width="1.2"/>
<line x1="298.9" y1="795.1" x2="298.9" y2="791.6" stroke="#333" stroke-width="1.2"/>
<line x1="315.5" y1="795.1" x2="315.5" y2="791.6" stroke="#333" stroke-width="1.2"/>
<line x1="332.1" y1="795.1" x2="332.1" y2="791.6" stroke="#333" stroke-width="1.2"/>
<text transform="translate(72.8,579.8) scale(1.145,1.000)" font-size="12.3" fill="#111" text-anchor="start" font-weight="bold">Chi square: 2.15758</text>
<text transform="translate(229.5,586.0) scale(1.035,1.000)" font-size="14.2" fill="#8f2f1f" text-anchor="middle" font-weight="bold">Cr 2p</text>
<text transform="translate(328.9,587.6) scale(1.060,1.000)" font-size="18.7" fill="#9a2a1c" text-anchor="end" font-weight="bold">(e)</text>
<text x="207.3" y="830.2" font-size="14.6" fill="#8f2f1f" text-anchor="middle" font-weight="bold">Binding Energy (eV)</text>
<text transform="translate(24.2,680.9) rotate(-90) scale(1.040,1)" font-size="13.9" font-weight="bold" fill="#8f2f1f" text-anchor="middle">Counts</text>
<path d="M66.4,697.6 L71.9,699.6 L75.8,710.3 L79.7,719.1 L84.6,707.4 L86.6,708.0 L89.5,739.7 L91.5,720.0 L93.4,682.0 L96.3,657.0 L98.0,690.0 L99.3,752.4 L102.2,696.6 L106.1,718.2 L111.0,716.2 L115.9,706.4 L122.7,688.8 L126.2,727.0 L129.0,660.9 L131.5,690.0 L134.5,680.0 L136.4,722.1 L140.3,681.0 L142.7,655.0 L144.5,672.0 L148.2,660.0 L150.0,665.0 L154.0,668.0 L157.9,656.0 L160.0,662.0 L162.8,676.6 L166.7,657.0 L169.7,652.1 L172.6,634.5 L174.5,650.0 L177.1,669.7 L181.4,645.3 L184.0,635.0 L186.3,620.8 L191.2,619.8 L194.0,622.0 L197.1,626.7 L199.0,621.2 L202.9,607.4 L206.9,597.6 L209.8,613.3 L212.8,595.6 L215.8,618.3 L218.7,619.3 L220.5,607.0 L223.0,590.7 L225.6,627.1 L228.2,631.1 L230.5,603.5 L234.5,595.6 L237.4,597.6 L240.4,607.4 L242.8,646.8 L244.7,682.0 L246.3,691.8 L247.3,662.6 L250.2,641.9 L253.2,660.6 L256.2,645.8 L258.1,670.5 L260.1,692.8 L261.1,682.0 L265.0,660.6 L267.0,646.8 L269.0,662.6 L271.9,700.7 L275.9,742.1 L277.8,724.4 L280.8,695.8 L282.8,726.3 L286.1,756.9 L289.7,712.5 L292.6,731.3 L296.6,734.2 L299.9,788.4 L302.5,755.9 L305.4,740.1 L310.3,773.6 L315.3,726.3 L316.9,715.5 L319.6,754.9 L323.2,716.5 L326.7,755.9 L330.1,719.4 L334.0,722.4" fill="none" stroke="#2a2ae6" stroke-width="1.0" stroke-linejoin="round" stroke-linecap="round"/>
<path d="M89.5,740.3 L199.0,742.1 L238.4,743.5 L303.5,743.7" fill="none" stroke="#1e1e1e" stroke-width="1.1" stroke-linejoin="round" stroke-linecap="round"/>
<path d="M124.7,740.3 C127.3,740.2 135.4,740.3 140.3,739.7 C145.2,739.1 150.1,738.0 154.0,736.8 C157.9,735.6 160.5,734.4 163.8,732.3 C167.1,730.2 170.3,727.7 173.6,724.0 C176.9,720.3 180.5,714.9 183.4,710.3 C186.3,705.7 188.6,701.6 191.2,696.6 C193.8,691.6 196.4,685.7 199.0,680.0 C201.6,674.3 204.3,667.1 206.9,662.6 C209.5,658.1 212.2,655.0 214.8,652.7 C217.4,650.4 220.2,649.5 222.7,648.8 C225.1,648.1 227.2,647.9 229.5,648.4 C231.8,648.9 233.9,649.8 236.4,651.8 C238.9,653.8 242.0,657.5 244.3,660.6 C246.6,663.7 248.4,667.1 250.2,670.5 C252.0,673.9 253.2,677.3 255.2,681.0 C257.2,684.7 259.3,687.9 262.1,692.8 C264.9,697.7 268.6,705.3 271.9,710.6 C275.2,715.9 278.5,720.5 281.8,724.4 C285.1,728.3 288.2,731.7 291.6,734.2 C295.1,736.8 300.7,738.8 302.5,739.7" fill="none" stroke="#55e04f" stroke-width="1.1" stroke-linejoin="round" stroke-linecap="round"/>
<path d="M116.9,701.8 C118.9,699.7 125.3,692.6 128.6,689.3 C131.8,686.0 134.4,683.8 136.4,682.2 C138.4,680.6 139.0,680.6 140.3,679.5 C141.6,678.4 142.9,676.8 144.2,675.5 C145.5,674.2 145.9,673.3 148.2,671.7 C150.5,670.1 154.7,667.0 157.9,665.8 C161.2,664.5 164.4,664.2 167.7,664.2 C171.0,664.2 174.2,664.5 177.5,665.8 C180.8,667.0 184.0,669.2 187.3,671.7 C190.6,674.2 193.5,676.6 197.1,680.5 C200.7,684.4 205.3,690.6 208.9,694.8 C212.5,699.0 215.4,702.0 218.7,705.6 C222.0,709.2 225.3,713.2 228.6,716.5 C231.9,719.8 235.1,722.7 238.4,725.3 C241.7,727.9 245.0,730.2 248.3,732.2 C251.6,734.2 254.8,735.9 258.1,737.2 C261.4,738.5 264.7,739.3 268.0,740.1 C271.3,740.9 272.9,741.5 277.8,742.1 C282.7,742.7 293.2,743.2 297.5,743.5 C301.8,743.8 302.5,743.7 303.5,743.7" fill="none" stroke="#e8453f" stroke-width="1.1" stroke-linejoin="round" stroke-linecap="round"/>
<path d="M89.5,724.0 C92.1,722.0 100.5,716.0 105.1,712.3 C109.7,708.5 113.0,705.4 116.9,701.5 C120.8,697.6 125.3,692.2 128.6,688.8 C131.8,685.4 133.8,683.5 136.4,681.0 C139.0,678.5 141.3,676.5 144.2,673.6 C147.1,670.8 150.7,667.0 154.0,663.9 C157.3,660.8 160.5,657.8 163.8,655.0 C167.1,652.2 170.3,650.1 173.6,647.2 C176.9,644.3 180.1,640.5 183.4,637.4 C186.7,634.3 190.4,630.8 193.2,628.6 C196.0,626.4 197.7,625.7 200.0,624.0 C202.3,622.3 204.1,619.8 206.9,618.3 C209.7,616.8 213.8,615.5 216.7,615.3 C219.6,615.1 222.0,616.0 224.6,617.3 C227.2,618.6 230.2,620.6 232.5,623.2 C234.8,625.8 236.4,629.4 238.4,633.0 C240.4,636.6 242.3,640.6 244.3,644.9 C246.3,649.2 248.2,653.8 250.2,658.7 C252.2,663.6 254.7,670.7 256.2,674.4 C257.7,678.1 257.5,677.6 259.1,681.0 C260.7,684.4 263.5,689.9 266.0,694.8 C268.5,699.7 271.3,706.0 273.9,710.6 C276.5,715.2 278.9,718.8 281.8,722.4 C284.8,726.0 288.2,729.4 291.6,732.2 C295.1,735.0 300.7,738.0 302.5,739.1" fill="none" stroke="#1e1e1e" stroke-width="1.1" stroke-linejoin="round" stroke-linecap="round"/>
<text x="110.0" y="649.8" font-size="12.9" fill="#c0281e" font-weight="bold"><tspan dy="0.0">CrO</tspan><tspan font-size="7.9" dy="3.2">3</tspan></text>
<line x1="132.5" y1="655" x2="148.0" y2="674.3" stroke="#b3261e" stroke-width="1.3"/>
<path d="M153,680.5 L145.2,676.5 L150.8,672.0 Z" fill="#b3261e"/>
<text x="260.5" y="636.8" font-size="12.7" fill="#3db54a" font-weight="bold"><tspan dy="0.0">Cr</tspan><tspan font-size="7.8" dy="3.2">2</tspan><tspan dy="-3.2">O</tspan><tspan font-size="7.8" dy="3.2">3</tspan></text>
<line x1="276.8" y1="638" x2="242.2" y2="660.3" stroke="#28a844" stroke-width="1.3"/>
<path d="M235.5,664.6 L240.3,657.2 L244.2,663.3 Z" fill="#28a844"/>
<line x1="228.6" y1="640" x2="228.6" y2="646" stroke="#333" stroke-width="1.3"/>
<text transform="translate(233.5,630.0) rotate(-90)" font-size="11.6" font-weight="bold" fill="#111" text-anchor="middle">A</text>
<line x1="166.4" y1="655" x2="166.4" y2="662" stroke="#333" stroke-width="1.3"/>
<text transform="translate(171.6,647.7) rotate(-90)" font-size="12.9" font-weight="bold" fill="#111" text-anchor="middle">B</text>
<rect x="402.6" y="568.5" width="264.9" height="226.60000000000002" fill="none" stroke="#333" stroke-width="1.25"/>
<line x1="402.6" y1="783.6" x2="408.1" y2="783.6" stroke="#333" stroke-width="1.2"/>
<text transform="translate(401.3,787.9) scale(1.160,1.000)" font-size="12.6" fill="#111" text-anchor="end" font-weight="bold">1220</text>
<line x1="402.6" y1="761.2" x2="408.1" y2="761.2" stroke="#333" stroke-width="1.2"/>
<text transform="translate(401.3,765.5) scale(1.160,1.000)" font-size="12.6" fill="#111" text-anchor="end" font-weight="bold">1240</text>
<line x1="402.6" y1="738.9" x2="408.1" y2="738.9" stroke="#333" stroke-width="1.2"/>
<text transform="translate(401.3,743.1) scale(1.160,1.000)" font-size="12.6" fill="#111" text-anchor="end" font-weight="bold">1260</text>
<line x1="402.6" y1="716.5" x2="408.1" y2="716.5" stroke="#333" stroke-width="1.2"/>
<text transform="translate(401.3,720.8) scale(1.160,1.000)" font-size="12.6" fill="#111" text-anchor="end" font-weight="bold">1280</text>
<line x1="402.6" y1="694.1" x2="408.1" y2="694.1" stroke="#333" stroke-width="1.2"/>
<text transform="translate(401.3,698.4) scale(1.160,1.000)" font-size="12.6" fill="#111" text-anchor="end" font-weight="bold">1300</text>
<line x1="402.6" y1="671.8" x2="408.1" y2="671.8" stroke="#333" stroke-width="1.2"/>
<text transform="translate(401.3,676.0) scale(1.160,1.000)" font-size="12.6" fill="#111" text-anchor="end" font-weight="bold">1320</text>
<line x1="402.6" y1="649.4" x2="408.1" y2="649.4" stroke="#333" stroke-width="1.2"/>
<text transform="translate(401.3,653.7) scale(1.160,1.000)" font-size="12.6" fill="#111" text-anchor="end" font-weight="bold">1340</text>
<line x1="402.6" y1="627.0" x2="408.1" y2="627.0" stroke="#333" stroke-width="1.2"/>
<text transform="translate(401.3,631.3) scale(1.160,1.000)" font-size="12.6" fill="#111" text-anchor="end" font-weight="bold">1360</text>
<line x1="402.6" y1="604.6" x2="408.1" y2="604.6" stroke="#333" stroke-width="1.2"/>
<text transform="translate(401.3,608.9) scale(1.160,1.000)" font-size="12.6" fill="#111" text-anchor="end" font-weight="bold">1380</text>
<line x1="402.6" y1="582.3" x2="408.1" y2="582.3" stroke="#333" stroke-width="1.2"/>
<text transform="translate(401.3,586.6) scale(1.160,1.000)" font-size="12.6" fill="#111" text-anchor="end" font-weight="bold">1400</text>
<line x1="421.6" y1="795.1" x2="421.6" y2="790.1" stroke="#333" stroke-width="1.2"/>
<text transform="translate(421.6,807.6) scale(1.150,1.000)" font-size="12.6" fill="#111" text-anchor="middle" font-weight="bold">581.5</text>
<line x1="516.0" y1="795.1" x2="516.0" y2="790.1" stroke="#333" stroke-width="1.2"/>
<text transform="translate(516.0,807.6) scale(1.150,1.000)" font-size="12.6" fill="#111" text-anchor="middle" font-weight="bold">579</text>
<line x1="610.4" y1="795.1" x2="610.4" y2="790.1" stroke="#333" stroke-width="1.2"/>
<text transform="translate(610.4,807.6) scale(1.150,1.000)" font-size="12.6" fill="#111" text-anchor="middle" font-weight="bold">576.5</text>
<line x1="402.7" y1="795.1" x2="402.7" y2="791.6" stroke="#333" stroke-width="1.2"/>
<line x1="421.6" y1="795.1" x2="421.6" y2="791.6" stroke="#333" stroke-width="1.2"/>
<line x1="440.5" y1="795.1" x2="440.5" y2="791.6" stroke="#333" stroke-width="1.2"/>
<line x1="459.4" y1="795.1" x2="459.4" y2="791.6" stroke="#333" stroke-width="1.2"/>
<line x1="478.2" y1="795.1" x2="478.2" y2="791.6" stroke="#333" stroke-width="1.2"/>
<line x1="497.1" y1="795.1" x2="497.1" y2="791.6" stroke="#333" stroke-width="1.2"/>
<line x1="516.0" y1="795.1" x2="516.0" y2="791.6" stroke="#333" stroke-width="1.2"/>
<line x1="534.9" y1="795.1" x2="534.9" y2="791.6" stroke="#333" stroke-width="1.2"/>
<line x1="553.8" y1="795.1" x2="553.8" y2="791.6" stroke="#333" stroke-width="1.2"/>
<line x1="572.6" y1="795.1" x2="572.6" y2="791.6" stroke="#333" stroke-width="1.2"/>
<line x1="591.5" y1="795.1" x2="591.5" y2="791.6" stroke="#333" stroke-width="1.2"/>
<line x1="610.4" y1="795.1" x2="610.4" y2="791.6" stroke="#333" stroke-width="1.2"/>
<line x1="629.3" y1="795.1" x2="629.3" y2="791.6" stroke="#333" stroke-width="1.2"/>
<line x1="648.2" y1="795.1" x2="648.2" y2="791.6" stroke="#333" stroke-width="1.2"/>
<line x1="667.0" y1="795.1" x2="667.0" y2="791.6" stroke="#333" stroke-width="1.2"/>
<text transform="translate(408.8,579.8) scale(1.145,1.000)" font-size="12.3" fill="#111" text-anchor="start" font-weight="bold">Chi square: 2.01451</text>
<text transform="translate(564.6,586.0) scale(1.067,1.000)" font-size="14.2" fill="#8f2f1f" text-anchor="middle" font-weight="bold">Cr 2p</text>
<text transform="translate(665.0,586.8) scale(1.042,1.000)" font-size="18.8" fill="#9a2a1c" text-anchor="end" font-weight="bold">(f)</text>
<text x="539.8" y="831.2" font-size="14.6" fill="#8f2f1f" text-anchor="middle" font-weight="bold">Binding Energy (eV)</text>
<text transform="translate(369.2,680.2) rotate(-90) scale(1.050,1)" font-size="14.4" font-weight="bold" fill="#8f2f1f" text-anchor="middle">Counts</text>
<path d="M403.0,708.2 L409.8,708.2 L417.6,749.4 L420.5,744.1 L428.2,744.1 L430.2,729.5 L433.1,712.1 L437.0,701.4 L440.9,710.1 L444.4,733.4 L447.7,698.5 L451.5,739.3 L455.0,696.5 L458.3,710.1 L462.2,734.4 L466.1,710.1 L470.0,706.2 L474.8,732.5 L477.8,716.0 L480.7,704.3 L484.6,693.6 L487.5,682.0 L489.4,663.1 L491.5,682.0 L494.0,690.0 L497.0,700.0 L500.1,708.2 L503.0,682.0 L504.0,667.0 L511.7,639.8 L514.7,657.3 L516.6,675.8 L519.5,636.9 L523.4,627.2 L525.3,640.0 L527.3,675.8 L530.6,659.7 L535.9,652.7 L538.5,638.6 L542.0,675.4 L545.5,628.1 L549.0,612.0 L552.5,636.9 L556.9,635.6 L558.7,651.0 L561.2,674.8 L565.1,589.4 L568.0,608.8 L570.9,622.4 L572.8,617.5 L576.7,613.6 L579.7,630.1 L583.5,622.4 L587.4,670.9 L590.3,645.7 L593.3,651.5 L598.1,637.9 L602.0,643.7 L605.9,647.6 L609.8,659.3 L613.7,661.2 L617.5,669.0 L621.4,650.5 L623.0,690.0 L625.4,699.3 L628.9,720.4 L632.4,705.2 L635.9,723.9 L638.2,743.8 L640.6,736.7 L645.0,745.0 L651.1,753.0 L655.2,769.5 L662.7,734.4 L666.2,741.4 L667.5,739.0" fill="none" stroke="#2a2ae6" stroke-width="1.0" stroke-linejoin="round" stroke-linecap="round"/>
<path d="M417.6,749.4 C421.6,749.5 434.5,749.7 441.8,750.0 C449.1,750.3 454.8,750.8 461.3,751.3 C467.8,751.8 474.2,752.3 480.7,752.8 C487.2,753.3 493.6,753.8 500.1,754.4 C506.6,755.0 513.7,755.9 519.5,756.3 C525.3,756.7 529.2,756.2 535.0,756.7 C540.8,757.2 547.9,758.6 554.4,759.6 C560.9,760.6 567.3,761.7 573.8,762.6 C580.3,763.5 586.8,764.2 593.3,764.9 C599.8,765.6 606.2,766.2 612.7,766.8 C619.2,767.4 625.0,768.0 632.1,768.4 C639.2,768.8 651.5,768.9 655.4,769.0" fill="none" stroke="#1e1e1e" stroke-width="1.1" stroke-linejoin="round" stroke-linecap="round"/>
<path d="M441.8,749.4 C443.8,749.3 449.6,749.3 453.5,748.6 C457.4,747.9 461.2,746.5 465.1,745.1 C469.0,743.7 472.9,742.5 476.8,740.2 C480.7,737.9 484.5,734.9 488.4,731.5 C492.3,728.1 496.5,723.7 500.1,719.8 C503.7,715.9 506.6,712.4 509.8,708.2 C513.0,704.0 516.4,699.0 519.5,694.6 C522.6,690.2 525.6,686.0 528.2,682.0 C530.8,678.0 532.6,675.0 535.0,670.9 C537.4,666.8 540.2,661.2 542.8,657.3 C545.4,653.4 547.9,650.4 550.5,647.6 C553.1,644.9 555.7,642.3 558.3,640.8 C560.9,639.2 563.5,638.3 566.1,638.3 C568.7,638.3 571.2,639.2 573.8,640.8 C576.4,642.3 579.0,644.9 581.6,647.6 C584.2,650.4 586.8,653.7 589.4,657.3 C592.0,660.9 594.7,664.9 597.1,669.0 C599.5,673.1 601.9,678.5 603.9,682.0 C605.9,685.5 607.0,686.8 609.0,690.0 C611.0,693.2 613.7,697.6 616.0,701.5 C618.3,705.4 619.9,708.1 623.0,713.4 C626.1,718.7 631.2,727.9 634.7,733.2 C638.2,738.5 641.0,741.5 644.1,745.0 C647.2,748.5 651.9,752.8 653.4,754.3" fill="none" stroke="#55e04f" stroke-width="1.1" stroke-linejoin="round" stroke-linecap="round"/>
<path d="M426.3,733.4 C428.9,732.0 437.3,727.5 441.8,724.7 C446.3,722.0 449.6,719.2 453.5,716.9 C457.4,714.6 461.6,712.6 465.1,711.1 C468.7,709.6 471.9,708.6 474.8,707.8 C477.7,707.0 479.4,706.4 482.6,706.2 C485.9,706.0 490.4,706.3 494.3,706.6 C498.2,706.9 502.3,707.3 505.9,708.2 C509.4,709.1 512.4,710.3 515.6,712.1 C518.8,713.9 522.1,716.6 525.3,718.9 C528.5,721.2 531.8,723.3 535.0,725.7 C538.2,728.1 541.5,730.8 544.7,733.4 C547.9,736.0 551.2,738.9 554.4,741.2 C557.6,743.5 560.9,745.1 564.1,747.0 C567.3,748.9 570.6,751.0 573.8,752.8 C577.0,754.6 580.2,756.3 583.5,757.7 C586.8,759.1 590.0,760.0 593.3,761.0 C596.5,762.0 599.8,762.7 603.0,763.5 C606.2,764.3 609.5,765.2 612.7,766.0 C615.9,766.8 618.5,767.5 622.4,768.0 C626.3,768.5 631.1,768.6 636.0,768.8 C640.9,769.0 648.9,769.0 651.5,769.0" fill="none" stroke="#e8453f" stroke-width="1.1" stroke-linejoin="round" stroke-linecap="round"/>
<path d="M565.0,764.0 C566.5,763.7 571.0,762.8 573.8,762.2 C576.6,761.6 579.0,761.7 581.6,760.6 C584.2,759.5 586.8,758.1 589.4,755.8 C592.0,753.5 594.5,750.1 597.1,747.0 C599.7,743.9 602.3,739.9 604.9,737.3 C607.5,734.6 610.1,731.3 612.7,731.1 C615.3,730.9 617.8,733.3 620.4,736.3 C623.0,739.3 625.6,745.0 628.2,749.0 C630.8,753.0 633.4,757.7 636.0,760.6 C638.6,763.5 641.1,765.1 643.7,766.4 C646.3,767.7 650.2,768.1 651.5,768.4" fill="none" stroke="#3fa79a" stroke-width="1.1" stroke-linejoin="round" stroke-linecap="round"/>
<path d="M417.6,737.7 C419.4,736.8 424.8,734.2 428.2,732.5 C431.6,730.8 434.8,729.6 438.0,727.6 C441.2,725.6 444.5,723.4 447.7,720.8 C450.9,718.2 454.2,714.7 457.4,712.1 C460.6,709.5 463.9,707.6 467.1,705.3 C470.3,703.0 473.6,700.9 476.8,698.5 C480.0,696.1 483.3,693.5 486.5,690.7 C489.7,688.0 493.0,685.0 496.2,682.0 C499.4,679.0 502.7,676.0 505.9,672.9 C509.1,669.8 512.4,666.7 515.6,663.1 C518.8,659.5 522.7,654.7 525.3,651.5 C527.9,648.3 529.6,645.5 531.2,643.7 C532.8,641.9 533.1,642.7 535.0,640.8 C536.9,638.9 539.9,634.5 542.8,632.1 C545.7,629.7 549.3,627.5 552.5,626.3 C555.7,625.1 559.3,624.7 562.2,624.7 C565.1,624.7 567.4,625.1 570.0,626.3 C572.6,627.5 575.1,629.7 577.7,632.1 C580.3,634.5 582.9,638.2 585.5,640.8 C588.1,643.4 590.7,646.0 593.3,647.6 C595.9,649.2 598.6,649.5 601.0,650.5 C603.4,651.5 605.8,651.9 607.8,653.4 C609.8,654.9 611.2,656.7 612.7,659.3 C614.2,661.9 615.5,665.4 616.6,669.0 C617.7,672.6 618.4,677.5 619.5,681.0 C620.6,684.5 621.4,684.8 623.0,690.0 C624.6,695.2 626.9,706.0 628.9,712.2 C630.9,718.4 632.6,723.1 634.7,727.4 C636.8,731.7 639.4,734.4 641.7,737.9 C644.0,741.4 646.6,745.5 648.7,748.4 C650.9,751.3 653.6,754.2 654.6,755.4" fill="none" stroke="#1e1e1e" stroke-width="1.1" stroke-linejoin="round" stroke-linecap="round"/>
<text x="433.1" y="688.0" font-size="12.8" fill="#c0281e" font-weight="bold"><tspan dy="0.0">CrO</tspan><tspan font-size="7.9" dy="3.2">3</tspan></text>
<line x1="455.4" y1="693.6" x2="471.9" y2="714.5" stroke="#b3261e" stroke-width="1.3"/>
<path d="M476.8,720.8 L469.0,716.7 L474.7,712.3 Z" fill="#b3261e"/>
<text x="601.4" y="622.0" font-size="12.8" fill="#3db54a" font-weight="bold"><tspan dy="0.0">Cr</tspan><tspan font-size="7.9" dy="3.2">2</tspan><tspan dy="-3.2">O</tspan><tspan font-size="7.9" dy="3.2">3</tspan></text>
<line x1="617.5" y1="624.3" x2="583.5" y2="645.4" stroke="#28a844" stroke-width="1.3"/>
<path d="M576.7,649.6 L581.6,642.3 L585.4,648.4 Z" fill="#28a844"/>
<text x="624.3" y="691.7" font-size="12.6" fill="#4a78b8" text-anchor="start" font-weight="bold">(Fe, Cr)</text>
<text x="632.1" y="707.2" font-size="12.3" fill="#4a78b8" text-anchor="start" font-weight="bold">alloy</text>
<line x1="644.7" y1="710.1" x2="619.1" y2="737.3" stroke="#2f73c7" stroke-width="1.3"/>
<path d="M613.6,743.1 L616.5,734.8 L621.7,739.7 Z" fill="#2f73c7"/>
<line x1="569.6" y1="629.7" x2="569.6" y2="636" stroke="#333" stroke-width="1.3"/>
<text transform="translate(574.8,621.4) rotate(-90)" font-size="11.5" font-weight="bold" fill="#111" text-anchor="middle">A</text>
<line x1="493.3" y1="696.5" x2="493.3" y2="704.3" stroke="#333" stroke-width="1.3"/>
<text transform="translate(499.1,690.2) rotate(-90)" font-size="11.5" font-weight="bold" fill="#111" text-anchor="middle">B</text>
<line x1="613.6" y1="722.2" x2="613.6" y2="728.6" stroke="#333" stroke-width="1.3"/>
<text transform="translate(618.5,713.0) rotate(-90)" font-size="11.5" font-weight="bold" fill="#111" text-anchor="middle">C</text>
</svg></body></html>
